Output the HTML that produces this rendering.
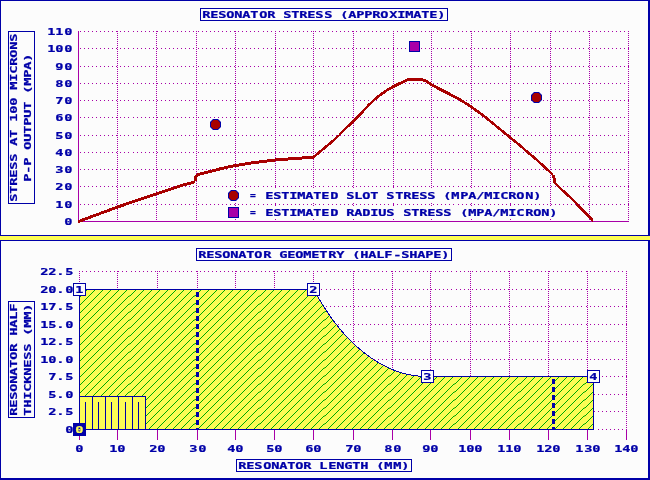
<!DOCTYPE html>
<html lang="en"><head><meta charset="utf-8"><title>Resonator Stress and Geometry</title>
<style>html,body{margin:0;padding:0;background:#fcfcfc;overflow:hidden}svg{display:block}text{font-family:"DejaVu Sans Mono","Liberation Mono",monospace;font-weight:bold;font-size:8.8px;stroke-width:0.22px;paint-order:stroke}</style>
</head><body>
<svg width="650" height="480" viewBox="0 0 650 480" shape-rendering="crispEdges">
<defs><pattern id="hatch" patternUnits="userSpaceOnUse" x="0" y="0" width="65" height="8"><rect width="65" height="8" fill="#fcfc54"/><path d="M7 0.5h1M15 0.5h1M23 0.5h1M31 0.5h1M39 0.5h1M47 0.5h1M55 0.5h1M63 0.5h1M6 1.5h1M14 1.5h1M22 1.5h1M30 1.5h1M38 1.5h1M46 1.5h1M54 1.5h1M62 1.5h1M5 2.5h1M13 2.5h1M21 2.5h1M29 2.5h1M37 2.5h1M45 2.5h1M53 2.5h1M61 2.5h1M4 3.5h1M12 3.5h1M20 3.5h1M28 3.5h1M36 3.5h1M44 3.5h1M52 3.5h1M60 3.5h1M3 4.5h1M11 4.5h1M19 4.5h1M27 4.5h1M35 4.5h1M43 4.5h1M51 4.5h1M59 4.5h1M2 5.5h1M10 5.5h1M18 5.5h1M26 5.5h1M34 5.5h1M42 5.5h1M50 5.5h1M58 5.5h1M1 6.5h1M9 6.5h1M17 6.5h1M25 6.5h1M33 6.5h1M41 6.5h1M49 6.5h1M57 6.5h1M0 7.5h1M8 7.5h1M16 7.5h1M24 7.5h1M32 7.5h1M40 7.5h1M48 7.5h1M56 7.5h1" stroke="#00a800"/><path d="M64 0.5h1M64 7.5h1" stroke="#00a800" opacity="0.5"/></pattern></defs>
<rect x="0" y="0" width="650" height="480" fill="#fcfcfc"/>
<rect x="0" y="236" width="650" height="4" fill="#fcfc54"/>
<g fill="#0000a8">
<rect x="0" y="0" width="650" height="1"/><rect x="0" y="0" width="1" height="236"/><rect x="648" y="0" width="2" height="236"/><rect x="0" y="235" width="650" height="1"/>
<rect x="0" y="240" width="650" height="1"/><rect x="0" y="240" width="1" height="240"/><rect x="648" y="240" width="2" height="240"/><rect x="0" y="478" width="650" height="2"/>
</g>
<path d="M80 204.5h1m3 0h1m3 0h1m3 0h1m3 0h1m3 0h1m3 0h1m3 0h1m3 0h1m3 0h1m3 0h1m3 0h1m3 0h1m4 0h1m3 0h1m3 0h1m3 0h1m3 0h1m3 0h1m3 0h1m3 0h1m3 0h1m3 0h1m3 0h1m3 0h1m3 0h1m3 0h1m3 0h1m3 0h1m4 0h1m3 0h1m3 0h1m3 0h1m3 0h1m3 0h1m3 0h1m3 0h1m3 0h1m3 0h1m3 0h1m3 0h1m3 0h1m3 0h1m3 0h1m3 0h1m4 0h1m3 0h1m3 0h1m3 0h1m3 0h1m3 0h1m3 0h1m3 0h1m3 0h1m3 0h1m3 0h1m3 0h1m3 0h1m3 0h1m3 0h1m3 0h1m4 0h1m3 0h1m3 0h1m3 0h1m3 0h1m3 0h1m3 0h1m3 0h1m3 0h1m3 0h1m3 0h1m3 0h1m3 0h1m3 0h1m3 0h1m3 0h1m4 0h1m3 0h1m3 0h1m3 0h1m3 0h1m3 0h1m3 0h1m3 0h1m3 0h1m3 0h1m3 0h1m3 0h1m3 0h1m3 0h1m3 0h1m3 0h1m4 0h1m3 0h1m3 0h1m3 0h1m3 0h1m3 0h1m3 0h1m3 0h1m3 0h1m3 0h1m3 0h1m3 0h1m3 0h1m3 0h1m3 0h1m3 0h1m4 0h1m3 0h1m3 0h1m3 0h1m3 0h1m3 0h1m3 0h1m3 0h1m3 0h1m3 0h1m3 0h1m3 0h1m3 0h1m3 0h1m3 0h1m3 0h1m4 0h1m3 0h1m3 0h1m3 0h1m3 0h1m3 0h1m3 0h1m3 0h1m3 0h1m3 0h1m3 0h1m-549 -18h1m3 0h1m3 0h1m3 0h1m3 0h1m3 0h1m3 0h1m3 0h1m3 0h1m3 0h1m3 0h1m3 0h1m3 0h1m4 0h1m3 0h1m3 0h1m3 0h1m3 0h1m3 0h1m3 0h1m3 0h1m3 0h1m3 0h1m3 0h1m3 0h1m3 0h1m3 0h1m3 0h1m3 0h1m4 0h1m3 0h1m3 0h1m3 0h1m3 0h1m3 0h1m3 0h1m3 0h1m3 0h1m3 0h1m3 0h1m3 0h1m3 0h1m3 0h1m3 0h1m3 0h1m4 0h1m3 0h1m3 0h1m3 0h1m3 0h1m3 0h1m3 0h1m3 0h1m3 0h1m3 0h1m3 0h1m3 0h1m3 0h1m3 0h1m3 0h1m3 0h1m4 0h1m3 0h1m3 0h1m3 0h1m3 0h1m3 0h1m3 0h1m3 0h1m3 0h1m3 0h1m3 0h1m3 0h1m3 0h1m3 0h1m3 0h1m3 0h1m4 0h1m3 0h1m3 0h1m3 0h1m3 0h1m3 0h1m3 0h1m3 0h1m3 0h1m3 0h1m3 0h1m3 0h1m3 0h1m3 0h1m3 0h1m3 0h1m4 0h1m3 0h1m3 0h1m3 0h1m3 0h1m3 0h1m3 0h1m3 0h1m3 0h1m3 0h1m3 0h1m3 0h1m3 0h1m3 0h1m3 0h1m3 0h1m4 0h1m3 0h1m3 0h1m3 0h1m3 0h1m3 0h1m3 0h1m3 0h1m3 0h1m3 0h1m3 0h1m3 0h1m3 0h1m3 0h1m3 0h1m3 0h1m4 0h1m3 0h1m3 0h1m3 0h1m3 0h1m3 0h1m3 0h1m3 0h1m3 0h1m3 0h1m3 0h1m-549 -17h1m3 0h1m3 0h1m3 0h1m3 0h1m3 0h1m3 0h1m3 0h1m3 0h1m3 0h1m3 0h1m3 0h1m3 0h1m4 0h1m3 0h1m3 0h1m3 0h1m3 0h1m3 0h1m3 0h1m3 0h1m3 0h1m3 0h1m3 0h1m3 0h1m3 0h1m3 0h1m3 0h1m3 0h1m4 0h1m3 0h1m3 0h1m3 0h1m3 0h1m3 0h1m3 0h1m3 0h1m3 0h1m3 0h1m3 0h1m3 0h1m3 0h1m3 0h1m3 0h1m3 0h1m4 0h1m3 0h1m3 0h1m3 0h1m3 0h1m3 0h1m3 0h1m3 0h1m3 0h1m3 0h1m3 0h1m3 0h1m3 0h1m3 0h1m3 0h1m3 0h1m4 0h1m3 0h1m3 0h1m3 0h1m3 0h1m3 0h1m3 0h1m3 0h1m3 0h1m3 0h1m3 0h1m3 0h1m3 0h1m3 0h1m3 0h1m3 0h1m4 0h1m3 0h1m3 0h1m3 0h1m3 0h1m3 0h1m3 0h1m3 0h1m3 0h1m3 0h1m3 0h1m3 0h1m3 0h1m3 0h1m3 0h1m3 0h1m4 0h1m3 0h1m3 0h1m3 0h1m3 0h1m3 0h1m3 0h1m3 0h1m3 0h1m3 0h1m3 0h1m3 0h1m3 0h1m3 0h1m3 0h1m3 0h1m4 0h1m3 0h1m3 0h1m3 0h1m3 0h1m3 0h1m3 0h1m3 0h1m3 0h1m3 0h1m3 0h1m3 0h1m3 0h1m3 0h1m3 0h1m3 0h1m4 0h1m3 0h1m3 0h1m3 0h1m3 0h1m3 0h1m3 0h1m3 0h1m3 0h1m3 0h1m3 0h1m-549 -17h1m3 0h1m3 0h1m3 0h1m3 0h1m3 0h1m3 0h1m3 0h1m3 0h1m3 0h1m3 0h1m3 0h1m3 0h1m4 0h1m3 0h1m3 0h1m3 0h1m3 0h1m3 0h1m3 0h1m3 0h1m3 0h1m3 0h1m3 0h1m3 0h1m3 0h1m3 0h1m3 0h1m3 0h1m4 0h1m3 0h1m3 0h1m3 0h1m3 0h1m3 0h1m3 0h1m3 0h1m3 0h1m3 0h1m3 0h1m3 0h1m3 0h1m3 0h1m3 0h1m3 0h1m4 0h1m3 0h1m3 0h1m3 0h1m3 0h1m3 0h1m3 0h1m3 0h1m3 0h1m3 0h1m3 0h1m3 0h1m3 0h1m3 0h1m3 0h1m3 0h1m4 0h1m3 0h1m3 0h1m3 0h1m3 0h1m3 0h1m3 0h1m3 0h1m3 0h1m3 0h1m3 0h1m3 0h1m3 0h1m3 0h1m3 0h1m3 0h1m4 0h1m3 0h1m3 0h1m3 0h1m3 0h1m3 0h1m3 0h1m3 0h1m3 0h1m3 0h1m3 0h1m3 0h1m3 0h1m3 0h1m3 0h1m3 0h1m4 0h1m3 0h1m3 0h1m3 0h1m3 0h1m3 0h1m3 0h1m3 0h1m3 0h1m3 0h1m3 0h1m3 0h1m3 0h1m3 0h1m3 0h1m3 0h1m4 0h1m3 0h1m3 0h1m3 0h1m3 0h1m3 0h1m3 0h1m3 0h1m3 0h1m3 0h1m3 0h1m3 0h1m3 0h1m3 0h1m3 0h1m3 0h1m4 0h1m3 0h1m3 0h1m3 0h1m3 0h1m3 0h1m3 0h1m3 0h1m3 0h1m3 0h1m3 0h1m-549 -17h1m3 0h1m3 0h1m3 0h1m3 0h1m3 0h1m3 0h1m3 0h1m3 0h1m3 0h1m3 0h1m3 0h1m3 0h1m4 0h1m3 0h1m3 0h1m3 0h1m3 0h1m3 0h1m3 0h1m3 0h1m3 0h1m3 0h1m3 0h1m3 0h1m3 0h1m3 0h1m3 0h1m3 0h1m4 0h1m3 0h1m3 0h1m3 0h1m3 0h1m3 0h1m3 0h1m3 0h1m3 0h1m3 0h1m3 0h1m3 0h1m3 0h1m3 0h1m3 0h1m3 0h1m4 0h1m3 0h1m3 0h1m3 0h1m3 0h1m3 0h1m3 0h1m3 0h1m3 0h1m3 0h1m3 0h1m3 0h1m3 0h1m3 0h1m3 0h1m3 0h1m4 0h1m3 0h1m3 0h1m3 0h1m3 0h1m3 0h1m3 0h1m3 0h1m3 0h1m3 0h1m3 0h1m3 0h1m3 0h1m3 0h1m3 0h1m3 0h1m4 0h1m3 0h1m3 0h1m3 0h1m3 0h1m3 0h1m3 0h1m3 0h1m3 0h1m3 0h1m3 0h1m3 0h1m3 0h1m3 0h1m3 0h1m3 0h1m4 0h1m3 0h1m3 0h1m3 0h1m3 0h1m3 0h1m3 0h1m3 0h1m3 0h1m3 0h1m3 0h1m3 0h1m3 0h1m3 0h1m3 0h1m3 0h1m4 0h1m3 0h1m3 0h1m3 0h1m3 0h1m3 0h1m3 0h1m3 0h1m3 0h1m3 0h1m3 0h1m3 0h1m3 0h1m3 0h1m3 0h1m3 0h1m4 0h1m3 0h1m3 0h1m3 0h1m3 0h1m3 0h1m3 0h1m3 0h1m3 0h1m3 0h1m3 0h1m-549 -18h1m3 0h1m3 0h1m3 0h1m3 0h1m3 0h1m3 0h1m3 0h1m3 0h1m3 0h1m3 0h1m3 0h1m3 0h1m4 0h1m3 0h1m3 0h1m3 0h1m3 0h1m3 0h1m3 0h1m3 0h1m3 0h1m3 0h1m3 0h1m3 0h1m3 0h1m3 0h1m3 0h1m3 0h1m4 0h1m3 0h1m3 0h1m3 0h1m3 0h1m3 0h1m3 0h1m3 0h1m3 0h1m3 0h1m3 0h1m3 0h1m3 0h1m3 0h1m3 0h1m3 0h1m4 0h1m3 0h1m3 0h1m3 0h1m3 0h1m3 0h1m3 0h1m3 0h1m3 0h1m3 0h1m3 0h1m3 0h1m3 0h1m3 0h1m3 0h1m3 0h1m4 0h1m3 0h1m3 0h1m3 0h1m3 0h1m3 0h1m3 0h1m3 0h1m3 0h1m3 0h1m3 0h1m3 0h1m3 0h1m3 0h1m3 0h1m3 0h1m4 0h1m3 0h1m3 0h1m3 0h1m3 0h1m3 0h1m3 0h1m3 0h1m3 0h1m3 0h1m3 0h1m3 0h1m3 0h1m3 0h1m3 0h1m3 0h1m4 0h1m3 0h1m3 0h1m3 0h1m3 0h1m3 0h1m3 0h1m3 0h1m3 0h1m3 0h1m3 0h1m3 0h1m3 0h1m3 0h1m3 0h1m3 0h1m4 0h1m3 0h1m3 0h1m3 0h1m3 0h1m3 0h1m3 0h1m3 0h1m3 0h1m3 0h1m3 0h1m3 0h1m3 0h1m3 0h1m3 0h1m3 0h1m4 0h1m3 0h1m3 0h1m3 0h1m3 0h1m3 0h1m3 0h1m3 0h1m3 0h1m3 0h1m3 0h1m-549 -17h1m3 0h1m3 0h1m3 0h1m3 0h1m3 0h1m3 0h1m3 0h1m3 0h1m3 0h1m3 0h1m3 0h1m3 0h1m4 0h1m3 0h1m3 0h1m3 0h1m3 0h1m3 0h1m3 0h1m3 0h1m3 0h1m3 0h1m3 0h1m3 0h1m3 0h1m3 0h1m3 0h1m3 0h1m4 0h1m3 0h1m3 0h1m3 0h1m3 0h1m3 0h1m3 0h1m3 0h1m3 0h1m3 0h1m3 0h1m3 0h1m3 0h1m3 0h1m3 0h1m3 0h1m4 0h1m3 0h1m3 0h1m3 0h1m3 0h1m3 0h1m3 0h1m3 0h1m3 0h1m3 0h1m3 0h1m3 0h1m3 0h1m3 0h1m3 0h1m3 0h1m4 0h1m3 0h1m3 0h1m3 0h1m3 0h1m3 0h1m3 0h1m3 0h1m3 0h1m3 0h1m3 0h1m3 0h1m3 0h1m3 0h1m3 0h1m3 0h1m4 0h1m3 0h1m3 0h1m3 0h1m3 0h1m3 0h1m3 0h1m3 0h1m3 0h1m3 0h1m3 0h1m3 0h1m3 0h1m3 0h1m3 0h1m3 0h1m4 0h1m3 0h1m3 0h1m3 0h1m3 0h1m3 0h1m3 0h1m3 0h1m3 0h1m3 0h1m3 0h1m3 0h1m3 0h1m3 0h1m3 0h1m3 0h1m4 0h1m3 0h1m3 0h1m3 0h1m3 0h1m3 0h1m3 0h1m3 0h1m3 0h1m3 0h1m3 0h1m3 0h1m3 0h1m3 0h1m3 0h1m3 0h1m4 0h1m3 0h1m3 0h1m3 0h1m3 0h1m3 0h1m3 0h1m3 0h1m3 0h1m3 0h1m3 0h1m-549 -17h1m3 0h1m3 0h1m3 0h1m3 0h1m3 0h1m3 0h1m3 0h1m3 0h1m3 0h1m3 0h1m3 0h1m3 0h1m4 0h1m3 0h1m3 0h1m3 0h1m3 0h1m3 0h1m3 0h1m3 0h1m3 0h1m3 0h1m3 0h1m3 0h1m3 0h1m3 0h1m3 0h1m3 0h1m4 0h1m3 0h1m3 0h1m3 0h1m3 0h1m3 0h1m3 0h1m3 0h1m3 0h1m3 0h1m3 0h1m3 0h1m3 0h1m3 0h1m3 0h1m3 0h1m4 0h1m3 0h1m3 0h1m3 0h1m3 0h1m3 0h1m3 0h1m3 0h1m3 0h1m3 0h1m3 0h1m3 0h1m3 0h1m3 0h1m3 0h1m3 0h1m4 0h1m3 0h1m3 0h1m3 0h1m3 0h1m3 0h1m3 0h1m3 0h1m3 0h1m3 0h1m3 0h1m3 0h1m3 0h1m3 0h1m3 0h1m3 0h1m4 0h1m3 0h1m3 0h1m3 0h1m3 0h1m3 0h1m3 0h1m3 0h1m3 0h1m3 0h1m3 0h1m3 0h1m3 0h1m3 0h1m3 0h1m3 0h1m4 0h1m3 0h1m3 0h1m3 0h1m3 0h1m3 0h1m3 0h1m3 0h1m3 0h1m3 0h1m3 0h1m3 0h1m3 0h1m3 0h1m3 0h1m3 0h1m4 0h1m3 0h1m3 0h1m3 0h1m3 0h1m3 0h1m3 0h1m3 0h1m3 0h1m3 0h1m3 0h1m3 0h1m3 0h1m3 0h1m3 0h1m3 0h1m4 0h1m3 0h1m3 0h1m3 0h1m3 0h1m3 0h1m3 0h1m3 0h1m3 0h1m3 0h1m3 0h1m-549 -17h1m3 0h1m3 0h1m3 0h1m3 0h1m3 0h1m3 0h1m3 0h1m3 0h1m3 0h1m3 0h1m3 0h1m3 0h1m4 0h1m3 0h1m3 0h1m3 0h1m3 0h1m3 0h1m3 0h1m3 0h1m3 0h1m3 0h1m3 0h1m3 0h1m3 0h1m3 0h1m3 0h1m3 0h1m4 0h1m3 0h1m3 0h1m3 0h1m3 0h1m3 0h1m3 0h1m3 0h1m3 0h1m3 0h1m3 0h1m3 0h1m3 0h1m3 0h1m3 0h1m3 0h1m4 0h1m3 0h1m3 0h1m3 0h1m3 0h1m3 0h1m3 0h1m3 0h1m3 0h1m3 0h1m3 0h1m3 0h1m3 0h1m3 0h1m3 0h1m3 0h1m4 0h1m3 0h1m3 0h1m3 0h1m3 0h1m3 0h1m3 0h1m3 0h1m3 0h1m3 0h1m3 0h1m3 0h1m3 0h1m3 0h1m3 0h1m3 0h1m4 0h1m3 0h1m3 0h1m3 0h1m3 0h1m3 0h1m3 0h1m3 0h1m3 0h1m3 0h1m3 0h1m3 0h1m3 0h1m3 0h1m3 0h1m3 0h1m4 0h1m3 0h1m3 0h1m3 0h1m3 0h1m3 0h1m3 0h1m3 0h1m3 0h1m3 0h1m3 0h1m3 0h1m3 0h1m3 0h1m3 0h1m3 0h1m4 0h1m3 0h1m3 0h1m3 0h1m3 0h1m3 0h1m3 0h1m3 0h1m3 0h1m3 0h1m3 0h1m3 0h1m3 0h1m3 0h1m3 0h1m3 0h1m4 0h1m3 0h1m3 0h1m3 0h1m3 0h1m3 0h1m3 0h1m3 0h1m3 0h1m3 0h1m3 0h1m-549 -18h1m3 0h1m3 0h1m3 0h1m3 0h1m3 0h1m3 0h1m3 0h1m3 0h1m3 0h1m3 0h1m3 0h1m3 0h1m4 0h1m3 0h1m3 0h1m3 0h1m3 0h1m3 0h1m3 0h1m3 0h1m3 0h1m3 0h1m3 0h1m3 0h1m3 0h1m3 0h1m3 0h1m3 0h1m4 0h1m3 0h1m3 0h1m3 0h1m3 0h1m3 0h1m3 0h1m3 0h1m3 0h1m3 0h1m3 0h1m3 0h1m3 0h1m3 0h1m3 0h1m3 0h1m4 0h1m3 0h1m3 0h1m3 0h1m3 0h1m3 0h1m3 0h1m3 0h1m3 0h1m3 0h1m3 0h1m3 0h1m3 0h1m3 0h1m3 0h1m3 0h1m4 0h1m3 0h1m3 0h1m3 0h1m3 0h1m3 0h1m3 0h1m3 0h1m3 0h1m3 0h1m3 0h1m3 0h1m3 0h1m3 0h1m3 0h1m3 0h1m4 0h1m3 0h1m3 0h1m3 0h1m3 0h1m3 0h1m3 0h1m3 0h1m3 0h1m3 0h1m3 0h1m3 0h1m3 0h1m3 0h1m3 0h1m3 0h1m4 0h1m3 0h1m3 0h1m3 0h1m3 0h1m3 0h1m3 0h1m3 0h1m3 0h1m3 0h1m3 0h1m3 0h1m3 0h1m3 0h1m3 0h1m3 0h1m4 0h1m3 0h1m3 0h1m3 0h1m3 0h1m3 0h1m3 0h1m3 0h1m3 0h1m3 0h1m3 0h1m3 0h1m3 0h1m3 0h1m3 0h1m3 0h1m4 0h1m3 0h1m3 0h1m3 0h1m3 0h1m3 0h1m3 0h1m3 0h1m3 0h1m3 0h1m3 0h1m-549 -17h1m3 0h1m3 0h1m3 0h1m3 0h1m3 0h1m3 0h1m3 0h1m3 0h1m3 0h1m3 0h1m3 0h1m3 0h1m4 0h1m3 0h1m3 0h1m3 0h1m3 0h1m3 0h1m3 0h1m3 0h1m3 0h1m3 0h1m3 0h1m3 0h1m3 0h1m3 0h1m3 0h1m3 0h1m4 0h1m3 0h1m3 0h1m3 0h1m3 0h1m3 0h1m3 0h1m3 0h1m3 0h1m3 0h1m3 0h1m3 0h1m3 0h1m3 0h1m3 0h1m3 0h1m4 0h1m3 0h1m3 0h1m3 0h1m3 0h1m3 0h1m3 0h1m3 0h1m3 0h1m3 0h1m3 0h1m3 0h1m3 0h1m3 0h1m3 0h1m3 0h1m4 0h1m3 0h1m3 0h1m3 0h1m3 0h1m3 0h1m3 0h1m3 0h1m3 0h1m3 0h1m3 0h1m3 0h1m3 0h1m3 0h1m3 0h1m3 0h1m4 0h1m3 0h1m3 0h1m3 0h1m3 0h1m3 0h1m3 0h1m3 0h1m3 0h1m3 0h1m3 0h1m3 0h1m3 0h1m3 0h1m3 0h1m3 0h1m4 0h1m3 0h1m3 0h1m3 0h1m3 0h1m3 0h1m3 0h1m3 0h1m3 0h1m3 0h1m3 0h1m3 0h1m3 0h1m3 0h1m3 0h1m3 0h1m4 0h1m3 0h1m3 0h1m3 0h1m3 0h1m3 0h1m3 0h1m3 0h1m3 0h1m3 0h1m3 0h1m3 0h1m3 0h1m3 0h1m3 0h1m3 0h1m4 0h1m3 0h1m3 0h1m3 0h1m3 0h1m3 0h1m3 0h1m3 0h1m3 0h1m3 0h1m3 0h1" stroke="#a800a8" fill="none"/>
<path d="M117 31.5h1m-1 2h1m-1 2h1m-1 2h1m-1 2h1m-1 2h1m-1 2h1m-1 2h1m-1 2h1m-1 2h1m-1 2h1m-1 2h1m-1 2h1m-1 2h1m-1 2h1m-1 2h1m-1 2h1m-1 2h1m-1 2h1m-1 2h1m-1 2h1m-1 2h1m-1 2h1m-1 2h1m-1 2h1m-1 2h1m-1 2h1m-1 2h1m-1 2h1m-1 2h1m-1 2h1m-1 2h1m-1 2h1m-1 2h1m-1 2h1m-1 2h1m-1 2h1m-1 2h1m-1 2h1m-1 2h1m-1 2h1m-1 2h1m-1 2h1m-1 2h1m-1 2h1m-1 2h1m-1 2h1m-1 2h1m-1 2h1m-1 2h1m-1 2h1m-1 2h1m-1 2h1m-1 2h1m-1 2h1m-1 2h1m-1 2h1m-1 2h1m-1 2h1m-1 2h1m-1 2h1m-1 2h1m-1 2h1m-1 2h1m-1 2h1m-1 2h1m-1 2h1m-1 2h1m-1 2h1m-1 2h1m-1 2h1m-1 2h1m-1 2h1m-1 2h1m-1 2h1m-1 2h1m-1 2h1m-1 2h1m-1 2h1m-1 2h1m-1 2h1m-1 2h1m-1 2h1m-1 2h1m-1 2h1m-1 2h1m-1 2h1m-1 2h1m-1 2h1m-1 2h1m-1 2h1m-1 2h1m-1 2h1m-1 2h1m-1 2h1m38 -188h1m-1 2h1m-1 2h1m-1 2h1m-1 2h1m-1 2h1m-1 2h1m-1 2h1m-1 2h1m-1 2h1m-1 2h1m-1 2h1m-1 2h1m-1 2h1m-1 2h1m-1 2h1m-1 2h1m-1 2h1m-1 2h1m-1 2h1m-1 2h1m-1 2h1m-1 2h1m-1 2h1m-1 2h1m-1 2h1m-1 2h1m-1 2h1m-1 2h1m-1 2h1m-1 2h1m-1 2h1m-1 2h1m-1 2h1m-1 2h1m-1 2h1m-1 2h1m-1 2h1m-1 2h1m-1 2h1m-1 2h1m-1 2h1m-1 2h1m-1 2h1m-1 2h1m-1 2h1m-1 2h1m-1 2h1m-1 2h1m-1 2h1m-1 2h1m-1 2h1m-1 2h1m-1 2h1m-1 2h1m-1 2h1m-1 2h1m-1 2h1m-1 2h1m-1 2h1m-1 2h1m-1 2h1m-1 2h1m-1 2h1m-1 2h1m-1 2h1m-1 2h1m-1 2h1m-1 2h1m-1 2h1m-1 2h1m-1 2h1m-1 2h1m-1 2h1m-1 2h1m-1 2h1m-1 2h1m-1 2h1m-1 2h1m-1 2h1m-1 2h1m-1 2h1m-1 2h1m-1 2h1m-1 2h1m-1 2h1m-1 2h1m-1 2h1m-1 2h1m-1 2h1m-1 2h1m-1 2h1m-1 2h1m-1 2h1m-1 2h1m39 -188h1m-1 2h1m-1 2h1m-1 2h1m-1 2h1m-1 2h1m-1 2h1m-1 2h1m-1 2h1m-1 2h1m-1 2h1m-1 2h1m-1 2h1m-1 2h1m-1 2h1m-1 2h1m-1 2h1m-1 2h1m-1 2h1m-1 2h1m-1 2h1m-1 2h1m-1 2h1m-1 2h1m-1 2h1m-1 2h1m-1 2h1m-1 2h1m-1 2h1m-1 2h1m-1 2h1m-1 2h1m-1 2h1m-1 2h1m-1 2h1m-1 2h1m-1 2h1m-1 2h1m-1 2h1m-1 2h1m-1 2h1m-1 2h1m-1 2h1m-1 2h1m-1 2h1m-1 2h1m-1 2h1m-1 2h1m-1 2h1m-1 2h1m-1 2h1m-1 2h1m-1 2h1m-1 2h1m-1 2h1m-1 2h1m-1 2h1m-1 2h1m-1 2h1m-1 2h1m-1 2h1m-1 2h1m-1 2h1m-1 2h1m-1 2h1m-1 2h1m-1 2h1m-1 2h1m-1 2h1m-1 2h1m-1 2h1m-1 2h1m-1 2h1m-1 2h1m-1 2h1m-1 2h1m-1 2h1m-1 2h1m-1 2h1m-1 2h1m-1 2h1m-1 2h1m-1 2h1m-1 2h1m-1 2h1m-1 2h1m-1 2h1m-1 2h1m-1 2h1m-1 2h1m-1 2h1m-1 2h1m-1 2h1m-1 2h1m-1 2h1m38 -188h1m-1 2h1m-1 2h1m-1 2h1m-1 2h1m-1 2h1m-1 2h1m-1 2h1m-1 2h1m-1 2h1m-1 2h1m-1 2h1m-1 2h1m-1 2h1m-1 2h1m-1 2h1m-1 2h1m-1 2h1m-1 2h1m-1 2h1m-1 2h1m-1 2h1m-1 2h1m-1 2h1m-1 2h1m-1 2h1m-1 2h1m-1 2h1m-1 2h1m-1 2h1m-1 2h1m-1 2h1m-1 2h1m-1 2h1m-1 2h1m-1 2h1m-1 2h1m-1 2h1m-1 2h1m-1 2h1m-1 2h1m-1 2h1m-1 2h1m-1 2h1m-1 2h1m-1 2h1m-1 2h1m-1 2h1m-1 2h1m-1 2h1m-1 2h1m-1 2h1m-1 2h1m-1 2h1m-1 2h1m-1 2h1m-1 2h1m-1 2h1m-1 2h1m-1 2h1m-1 2h1m-1 2h1m-1 2h1m-1 2h1m-1 2h1m-1 2h1m-1 2h1m-1 2h1m-1 2h1m-1 2h1m-1 2h1m-1 2h1m-1 2h1m-1 2h1m-1 2h1m-1 2h1m-1 2h1m-1 2h1m-1 2h1m-1 2h1m-1 2h1m-1 2h1m-1 2h1m-1 2h1m-1 2h1m-1 2h1m-1 2h1m-1 2h1m-1 2h1m-1 2h1m-1 2h1m-1 2h1m-1 2h1m-1 2h1m-1 2h1m39 -188h1m-1 2h1m-1 2h1m-1 2h1m-1 2h1m-1 2h1m-1 2h1m-1 2h1m-1 2h1m-1 2h1m-1 2h1m-1 2h1m-1 2h1m-1 2h1m-1 2h1m-1 2h1m-1 2h1m-1 2h1m-1 2h1m-1 2h1m-1 2h1m-1 2h1m-1 2h1m-1 2h1m-1 2h1m-1 2h1m-1 2h1m-1 2h1m-1 2h1m-1 2h1m-1 2h1m-1 2h1m-1 2h1m-1 2h1m-1 2h1m-1 2h1m-1 2h1m-1 2h1m-1 2h1m-1 2h1m-1 2h1m-1 2h1m-1 2h1m-1 2h1m-1 2h1m-1 2h1m-1 2h1m-1 2h1m-1 2h1m-1 2h1m-1 2h1m-1 2h1m-1 2h1m-1 2h1m-1 2h1m-1 2h1m-1 2h1m-1 2h1m-1 2h1m-1 2h1m-1 2h1m-1 2h1m-1 2h1m-1 2h1m-1 2h1m-1 2h1m-1 2h1m-1 2h1m-1 2h1m-1 2h1m-1 2h1m-1 2h1m-1 2h1m-1 2h1m-1 2h1m-1 2h1m-1 2h1m-1 2h1m-1 2h1m-1 2h1m-1 2h1m-1 2h1m-1 2h1m-1 2h1m-1 2h1m-1 2h1m-1 2h1m-1 2h1m-1 2h1m-1 2h1m-1 2h1m-1 2h1m-1 2h1m-1 2h1m-1 2h1m37 -188h1m-1 2h1m-1 2h1m-1 2h1m-1 2h1m-1 2h1m-1 2h1m-1 2h1m-1 2h1m-1 2h1m-1 2h1m-1 2h1m-1 2h1m-1 2h1m-1 2h1m-1 2h1m-1 2h1m-1 2h1m-1 2h1m-1 2h1m-1 2h1m-1 2h1m-1 2h1m-1 2h1m-1 2h1m-1 2h1m-1 2h1m-1 2h1m-1 2h1m-1 2h1m-1 2h1m-1 2h1m-1 2h1m-1 2h1m-1 2h1m-1 2h1m-1 2h1m-1 2h1m-1 2h1m-1 2h1m-1 2h1m-1 2h1m-1 2h1m-1 2h1m-1 2h1m-1 2h1m-1 2h1m-1 2h1m-1 2h1m-1 2h1m-1 2h1m-1 2h1m-1 2h1m-1 2h1m-1 2h1m-1 2h1m-1 2h1m-1 2h1m-1 2h1m-1 2h1m-1 2h1m-1 2h1m-1 2h1m-1 2h1m-1 2h1m-1 2h1m-1 2h1m-1 2h1m-1 2h1m-1 2h1m-1 2h1m-1 2h1m-1 2h1m-1 2h1m-1 2h1m-1 2h1m-1 2h1m-1 2h1m-1 2h1m-1 2h1m-1 2h1m-1 2h1m-1 2h1m-1 2h1m-1 2h1m-1 2h1m-1 2h1m-1 2h1m-1 2h1m-1 2h1m-1 2h1m-1 2h1m-1 2h1m-1 2h1m-1 2h1m39 -188h1m-1 2h1m-1 2h1m-1 2h1m-1 2h1m-1 2h1m-1 2h1m-1 2h1m-1 2h1m-1 2h1m-1 2h1m-1 2h1m-1 2h1m-1 2h1m-1 2h1m-1 2h1m-1 2h1m-1 2h1m-1 2h1m-1 2h1m-1 2h1m-1 2h1m-1 2h1m-1 2h1m-1 2h1m-1 2h1m-1 2h1m-1 2h1m-1 2h1m-1 2h1m-1 2h1m-1 2h1m-1 2h1m-1 2h1m-1 2h1m-1 2h1m-1 2h1m-1 2h1m-1 2h1m-1 2h1m-1 2h1m-1 2h1m-1 2h1m-1 2h1m-1 2h1m-1 2h1m-1 2h1m-1 2h1m-1 2h1m-1 2h1m-1 2h1m-1 2h1m-1 2h1m-1 2h1m-1 2h1m-1 2h1m-1 2h1m-1 2h1m-1 2h1m-1 2h1m-1 2h1m-1 2h1m-1 2h1m-1 2h1m-1 2h1m-1 2h1m-1 2h1m-1 2h1m-1 2h1m-1 2h1m-1 2h1m-1 2h1m-1 2h1m-1 2h1m-1 2h1m-1 2h1m-1 2h1m-1 2h1m-1 2h1m-1 2h1m-1 2h1m-1 2h1m-1 2h1m-1 2h1m-1 2h1m-1 2h1m-1 2h1m-1 2h1m-1 2h1m-1 2h1m-1 2h1m-1 2h1m-1 2h1m-1 2h1m-1 2h1m39 -188h1m-1 2h1m-1 2h1m-1 2h1m-1 2h1m-1 2h1m-1 2h1m-1 2h1m-1 2h1m-1 2h1m-1 2h1m-1 2h1m-1 2h1m-1 2h1m-1 2h1m-1 2h1m-1 2h1m-1 2h1m-1 2h1m-1 2h1m-1 2h1m-1 2h1m-1 2h1m-1 2h1m-1 2h1m-1 2h1m-1 2h1m-1 2h1m-1 2h1m-1 2h1m-1 2h1m-1 2h1m-1 2h1m-1 2h1m-1 2h1m-1 2h1m-1 2h1m-1 2h1m-1 2h1m-1 2h1m-1 2h1m-1 2h1m-1 2h1m-1 2h1m-1 2h1m-1 2h1m-1 2h1m-1 2h1m-1 2h1m-1 2h1m-1 2h1m-1 2h1m-1 2h1m-1 2h1m-1 2h1m-1 2h1m-1 2h1m-1 2h1m-1 2h1m-1 2h1m-1 2h1m-1 2h1m-1 2h1m-1 2h1m-1 2h1m-1 2h1m-1 2h1m-1 2h1m-1 2h1m-1 2h1m-1 2h1m-1 2h1m-1 2h1m-1 2h1m-1 2h1m-1 2h1m-1 2h1m-1 2h1m-1 2h1m-1 2h1m-1 2h1m-1 2h1m-1 2h1m-1 2h1m-1 2h1m-1 2h1m-1 2h1m-1 2h1m-1 2h1m-1 2h1m-1 2h1m-1 2h1m-1 2h1m-1 2h1m-1 2h1m37 -188h1m-1 2h1m-1 2h1m-1 2h1m-1 2h1m-1 2h1m-1 2h1m-1 2h1m-1 2h1m-1 2h1m-1 2h1m-1 2h1m-1 2h1m-1 2h1m-1 2h1m-1 2h1m-1 2h1m-1 2h1m-1 2h1m-1 2h1m-1 2h1m-1 2h1m-1 2h1m-1 2h1m-1 2h1m-1 2h1m-1 2h1m-1 2h1m-1 2h1m-1 2h1m-1 2h1m-1 2h1m-1 2h1m-1 2h1m-1 2h1m-1 2h1m-1 2h1m-1 2h1m-1 2h1m-1 2h1m-1 2h1m-1 2h1m-1 2h1m-1 2h1m-1 2h1m-1 2h1m-1 2h1m-1 2h1m-1 2h1m-1 2h1m-1 2h1m-1 2h1m-1 2h1m-1 2h1m-1 2h1m-1 2h1m-1 2h1m-1 2h1m-1 2h1m-1 2h1m-1 2h1m-1 2h1m-1 2h1m-1 2h1m-1 2h1m-1 2h1m-1 2h1m-1 2h1m-1 2h1m-1 2h1m-1 2h1m-1 2h1m-1 2h1m-1 2h1m-1 2h1m-1 2h1m-1 2h1m-1 2h1m-1 2h1m-1 2h1m-1 2h1m-1 2h1m-1 2h1m-1 2h1m-1 2h1m-1 2h1m-1 2h1m-1 2h1m-1 2h1m-1 2h1m-1 2h1m-1 2h1m-1 2h1m-1 2h1m-1 2h1m39 -188h1m-1 2h1m-1 2h1m-1 2h1m-1 2h1m-1 2h1m-1 2h1m-1 2h1m-1 2h1m-1 2h1m-1 2h1m-1 2h1m-1 2h1m-1 2h1m-1 2h1m-1 2h1m-1 2h1m-1 2h1m-1 2h1m-1 2h1m-1 2h1m-1 2h1m-1 2h1m-1 2h1m-1 2h1m-1 2h1m-1 2h1m-1 2h1m-1 2h1m-1 2h1m-1 2h1m-1 2h1m-1 2h1m-1 2h1m-1 2h1m-1 2h1m-1 2h1m-1 2h1m-1 2h1m-1 2h1m-1 2h1m-1 2h1m-1 2h1m-1 2h1m-1 2h1m-1 2h1m-1 2h1m-1 2h1m-1 2h1m-1 2h1m-1 2h1m-1 2h1m-1 2h1m-1 2h1m-1 2h1m-1 2h1m-1 2h1m-1 2h1m-1 2h1m-1 2h1m-1 2h1m-1 2h1m-1 2h1m-1 2h1m-1 2h1m-1 2h1m-1 2h1m-1 2h1m-1 2h1m-1 2h1m-1 2h1m-1 2h1m-1 2h1m-1 2h1m-1 2h1m-1 2h1m-1 2h1m-1 2h1m-1 2h1m-1 2h1m-1 2h1m-1 2h1m-1 2h1m-1 2h1m-1 2h1m-1 2h1m-1 2h1m-1 2h1m-1 2h1m-1 2h1m-1 2h1m-1 2h1m-1 2h1m-1 2h1m-1 2h1m38 -188h1m-1 2h1m-1 2h1m-1 2h1m-1 2h1m-1 2h1m-1 2h1m-1 2h1m-1 2h1m-1 2h1m-1 2h1m-1 2h1m-1 2h1m-1 2h1m-1 2h1m-1 2h1m-1 2h1m-1 2h1m-1 2h1m-1 2h1m-1 2h1m-1 2h1m-1 2h1m-1 2h1m-1 2h1m-1 2h1m-1 2h1m-1 2h1m-1 2h1m-1 2h1m-1 2h1m-1 2h1m-1 2h1m-1 2h1m-1 2h1m-1 2h1m-1 2h1m-1 2h1m-1 2h1m-1 2h1m-1 2h1m-1 2h1m-1 2h1m-1 2h1m-1 2h1m-1 2h1m-1 2h1m-1 2h1m-1 2h1m-1 2h1m-1 2h1m-1 2h1m-1 2h1m-1 2h1m-1 2h1m-1 2h1m-1 2h1m-1 2h1m-1 2h1m-1 2h1m-1 2h1m-1 2h1m-1 2h1m-1 2h1m-1 2h1m-1 2h1m-1 2h1m-1 2h1m-1 2h1m-1 2h1m-1 2h1m-1 2h1m-1 2h1m-1 2h1m-1 2h1m-1 2h1m-1 2h1m-1 2h1m-1 2h1m-1 2h1m-1 2h1m-1 2h1m-1 2h1m-1 2h1m-1 2h1m-1 2h1m-1 2h1m-1 2h1m-1 2h1m-1 2h1m-1 2h1m-1 2h1m-1 2h1m-1 2h1m-1 2h1m39 -188h1m-1 2h1m-1 2h1m-1 2h1m-1 2h1m-1 2h1m-1 2h1m-1 2h1m-1 2h1m-1 2h1m-1 2h1m-1 2h1m-1 2h1m-1 2h1m-1 2h1m-1 2h1m-1 2h1m-1 2h1m-1 2h1m-1 2h1m-1 2h1m-1 2h1m-1 2h1m-1 2h1m-1 2h1m-1 2h1m-1 2h1m-1 2h1m-1 2h1m-1 2h1m-1 2h1m-1 2h1m-1 2h1m-1 2h1m-1 2h1m-1 2h1m-1 2h1m-1 2h1m-1 2h1m-1 2h1m-1 2h1m-1 2h1m-1 2h1m-1 2h1m-1 2h1m-1 2h1m-1 2h1m-1 2h1m-1 2h1m-1 2h1m-1 2h1m-1 2h1m-1 2h1m-1 2h1m-1 2h1m-1 2h1m-1 2h1m-1 2h1m-1 2h1m-1 2h1m-1 2h1m-1 2h1m-1 2h1m-1 2h1m-1 2h1m-1 2h1m-1 2h1m-1 2h1m-1 2h1m-1 2h1m-1 2h1m-1 2h1m-1 2h1m-1 2h1m-1 2h1m-1 2h1m-1 2h1m-1 2h1m-1 2h1m-1 2h1m-1 2h1m-1 2h1m-1 2h1m-1 2h1m-1 2h1m-1 2h1m-1 2h1m-1 2h1m-1 2h1m-1 2h1m-1 2h1m-1 2h1m-1 2h1m-1 2h1m-1 2h1m38 -188h1m-1 2h1m-1 2h1m-1 2h1m-1 2h1m-1 2h1m-1 2h1m-1 2h1m-1 2h1m-1 2h1m-1 2h1m-1 2h1m-1 2h1m-1 2h1m-1 2h1m-1 2h1m-1 2h1m-1 2h1m-1 2h1m-1 2h1m-1 2h1m-1 2h1m-1 2h1m-1 2h1m-1 2h1m-1 2h1m-1 2h1m-1 2h1m-1 2h1m-1 2h1m-1 2h1m-1 2h1m-1 2h1m-1 2h1m-1 2h1m-1 2h1m-1 2h1m-1 2h1m-1 2h1m-1 2h1m-1 2h1m-1 2h1m-1 2h1m-1 2h1m-1 2h1m-1 2h1m-1 2h1m-1 2h1m-1 2h1m-1 2h1m-1 2h1m-1 2h1m-1 2h1m-1 2h1m-1 2h1m-1 2h1m-1 2h1m-1 2h1m-1 2h1m-1 2h1m-1 2h1m-1 2h1m-1 2h1m-1 2h1m-1 2h1m-1 2h1m-1 2h1m-1 2h1m-1 2h1m-1 2h1m-1 2h1m-1 2h1m-1 2h1m-1 2h1m-1 2h1m-1 2h1m-1 2h1m-1 2h1m-1 2h1m-1 2h1m-1 2h1m-1 2h1m-1 2h1m-1 2h1m-1 2h1m-1 2h1m-1 2h1m-1 2h1m-1 2h1m-1 2h1m-1 2h1m-1 2h1m-1 2h1m-1 2h1m-1 2h1m38 -188h1m-1 2h1m-1 2h1m-1 2h1m-1 2h1m-1 2h1m-1 2h1m-1 2h1m-1 2h1m-1 2h1m-1 2h1m-1 2h1m-1 2h1m-1 2h1m-1 2h1m-1 2h1m-1 2h1m-1 2h1m-1 2h1m-1 2h1m-1 2h1m-1 2h1m-1 2h1m-1 2h1m-1 2h1m-1 2h1m-1 2h1m-1 2h1m-1 2h1m-1 2h1m-1 2h1m-1 2h1m-1 2h1m-1 2h1m-1 2h1m-1 2h1m-1 2h1m-1 2h1m-1 2h1m-1 2h1m-1 2h1m-1 2h1m-1 2h1m-1 2h1m-1 2h1m-1 2h1m-1 2h1m-1 2h1m-1 2h1m-1 2h1m-1 2h1m-1 2h1m-1 2h1m-1 2h1m-1 2h1m-1 2h1m-1 2h1m-1 2h1m-1 2h1m-1 2h1m-1 2h1m-1 2h1m-1 2h1m-1 2h1m-1 2h1m-1 2h1m-1 2h1m-1 2h1m-1 2h1m-1 2h1m-1 2h1m-1 2h1m-1 2h1m-1 2h1m-1 2h1m-1 2h1m-1 2h1m-1 2h1m-1 2h1m-1 2h1m-1 2h1m-1 2h1m-1 2h1m-1 2h1m-1 2h1m-1 2h1m-1 2h1m-1 2h1m-1 2h1m-1 2h1m-1 2h1m-1 2h1m-1 2h1m-1 2h1m-1 2h1" stroke="#a800a8" fill="none"/>
<rect x="78" y="31" width="1" height="191" fill="#a800a8"/><rect x="78" y="221" width="551" height="1" fill="#a800a8"/>
<text transform="translate(64.3 225) scale(1.55 1)" x="0" fill="#0000a8" stroke="#0000a8">0</text>
<text transform="translate(55.3 208) scale(1.55 1)" x="0 5.806" fill="#0000a8" stroke="#0000a8">10</text>
<text transform="translate(55.3 190) scale(1.55 1)" x="0 5.806" fill="#0000a8" stroke="#0000a8">20</text>
<text transform="translate(55.3 173) scale(1.55 1)" x="0 5.806" fill="#0000a8" stroke="#0000a8">30</text>
<text transform="translate(55.3 156) scale(1.55 1)" x="0 5.806" fill="#0000a8" stroke="#0000a8">40</text>
<text transform="translate(55.3 139) scale(1.55 1)" x="0 5.806" fill="#0000a8" stroke="#0000a8">50</text>
<text transform="translate(55.3 121) scale(1.55 1)" x="0 5.806" fill="#0000a8" stroke="#0000a8">60</text>
<text transform="translate(55.3 104) scale(1.55 1)" x="0 5.806" fill="#0000a8" stroke="#0000a8">70</text>
<text transform="translate(55.3 87) scale(1.55 1)" x="0 5.806" fill="#0000a8" stroke="#0000a8">80</text>
<text transform="translate(55.3 70) scale(1.55 1)" x="0 5.806" fill="#0000a8" stroke="#0000a8">90</text>
<text transform="translate(47.3 52) scale(1.55 1)" x="0 5.161 10.97" fill="#0000a8" stroke="#0000a8">100</text>
<text transform="translate(47.3 35) scale(1.55 1)" x="0 5.161 10.97" fill="#0000a8" stroke="#0000a8">110</text>
<rect x="200.5" y="8.5" width="247" height="12" fill="none" stroke="#0000a8"/>
<text transform="translate(202.3 18) scale(1.55 1)" x="0 5.161 10.32 15.48 20.65 25.81 30.97 36.77 41.94 47.1 52.26 57.42 62.58 67.74 72.9 78.71 83.87 89.03 94.19 99.35 104.5 109.7 114.8 120.6 125.8 131 136.1 141.3 146.5 151.6" fill="#0000a8" stroke="#0000a8">RESONATOR STRESS (APPROXIMATE)</text>
<rect x="8.5" y="31.5" width="26" height="172" fill="none" stroke="#0000a8"/>
<text transform="translate(17 201.7) rotate(-90) scale(1.55 1)" x="0 5.161 10.32 15.48 20.65 25.81 30.97 36.13 41.29 46.45 51.61 56.77 61.94 67.1 72.26 77.42 82.58 87.74 92.9 98.06 103.2" fill="#0000a8" stroke="#0000a8">STRESS AT 100 MICRONS</text>
<text transform="translate(31 181.7) rotate(-90) scale(1.55 1)" x="0 5.161 10.32 15.48 20.65 25.81 30.97 36.13 41.29 46.45 51.61 56.77 61.94 67.1 72.26 77.42" fill="#0000a8" stroke="#0000a8">P-P OUTPUT (MPA)</text>
<rect x="226" y="188" width="317" height="15" fill="#fcfcfc"/><rect x="226" y="206" width="333" height="13" fill="#fcfcfc"/>
<path d="M78.5 220.5L117 206.2M78.5 221.5L117 207.2M78.5 222.5L117 208.2M117 206.2L156.3 192.9M117 207.2L156.3 193.9M117 208.2L156.3 194.9M156.3 192.9L170 188.4M156.3 193.9L170 189.4M156.3 194.9L170 190.4M170 188.4L182.5 184.2M170 189.4L182.5 185.2M170 190.4L182.5 186.2M182.5 184.2L193.3 181.4M182.5 185.2L193.3 182.4M182.5 186.2L193.3 183.4M193.3 181.4L195 180M193.3 182.4L195 181M193.3 183.4L195 182M194 181L194.6 176.4M195 181L195.6 176.4M196 181L196.6 176.4M195.6 175.4L198.1 173.5M195.6 176.4L198.1 174.5M195.6 177.4L198.1 175.5M198.1 173.5L207.5 171.2M198.1 174.5L207.5 172.2M198.1 175.5L207.5 173.2M207.5 171.2L220 167.9M207.5 172.2L220 168.9M207.5 173.2L220 169.9M220 167.9L232.5 165.1M220 168.9L232.5 166.1M220 169.9L232.5 167.1M232.5 165.1L250 162.1M232.5 166.1L250 163.1M232.5 167.1L250 164.1M250 162.1L275.6 158.9M250 163.1L275.6 159.9M250 164.1L275.6 160.9M275.6 158.9L298.75 157.2M275.6 159.9L298.75 158.2M275.6 160.9L298.75 159.2M298.75 157.2L313.3 156.3M298.75 158.2L313.3 157.3M298.75 159.2L313.3 158.3M313.3 156.3L321.25 149.6M313.3 157.3L321.25 150.6M313.3 158.3L321.25 151.6M321.25 149.6L332.5 140.3M321.25 150.6L332.5 141.3M321.25 151.6L332.5 142.3M331.5 141.3L337.75 135M332.5 141.3L338.75 135M333.5 141.3L339.75 135M338.75 134L350 123.4M338.75 135L350 124.4M338.75 136L350 125.4M350 123.4L360 113.6M350 124.4L360 114.6M350 125.4L360 115.6M359 114.6L367.8 104.9M360 114.6L368.8 104.9M361 114.6L369.8 104.9M368.8 103.9L378.1 95.5M368.8 104.9L378.1 96.5M368.8 105.9L378.1 97.5M378.1 95.5L387.5 88.8M378.1 96.5L387.5 89.8M378.1 97.5L387.5 90.8M387.5 88.8L393.75 85.4M387.5 89.8L393.75 86.4M387.5 90.8L393.75 87.4M393.75 85.4L398.75 82.9M393.75 86.4L398.75 83.9M393.75 87.4L398.75 84.9M398.75 82.9L404.6 80.2M398.75 83.9L404.6 81.2M398.75 84.9L404.6 82.2M404.6 80.2L408.6 78.5M404.6 81.2L408.6 79.5M404.6 82.2L408.6 80.5M408.6 78.5L420.6 78.5M408.6 79.5L420.6 79.5M408.6 80.5L420.6 80.5M420.6 78.5L425 79.6M420.6 79.5L425 80.6M420.6 80.5L425 81.6M425 79.6L428.1 81.4M425 80.6L428.1 82.4M425 81.6L428.1 83.4M428.1 81.4L432.5 84.4M428.1 82.4L432.5 85.4M428.1 83.4L432.5 86.4M432.5 84.4L442.5 89.5M432.5 85.4L442.5 90.5M432.5 86.4L442.5 91.5M442.5 89.5L450 93.3M442.5 90.5L450 94.3M442.5 91.5L450 95.3M450 93.3L460 98.6M450 94.3L460 99.6M450 95.3L460 100.6M460 98.6L471.3 105.9M460 99.6L471.3 106.9M460 100.6L471.3 107.9M471.3 105.9L484.4 115.3M471.3 106.9L484.4 116.3M471.3 107.9L484.4 117.3M484.4 115.3L501.3 129.3M484.4 116.3L501.3 130.3M484.4 117.3L501.3 131.3M501.3 129.3L510.6 136.8M501.3 130.3L510.6 137.8M501.3 131.3L510.6 138.8M510.6 136.8L519 143.6M510.6 137.8L519 144.6M510.6 138.8L519 145.6M519 143.6L528.1 151.6M519 144.6L528.1 152.6M519 145.6L528.1 153.6M528.1 151.6L537.5 159.5M528.1 152.6L537.5 160.5M528.1 153.6L537.5 161.5M537.5 159.5L546.25 167.6M537.5 160.5L546.25 168.6M537.5 161.5L546.25 169.6M546.25 167.6L553.1 174M546.25 168.6L553.1 175M546.25 169.6L553.1 176M552.1 175L553.4 178.75M553.1 175L554.4 178.75M554.1 175L555.4 178.75M553.4 178.75L554 183.1M554.4 178.75L555 183.1M555.4 178.75L556 183.1M554 183.1L555.5 184.8M555 183.1L556.5 184.8M556 183.1L557.5 184.8M556.5 183.8L571.25 197.3M556.5 184.8L571.25 198.3M556.5 185.8L571.25 199.3M570.25 198.3L581.5 210M571.25 198.3L582.5 210M572.25 198.3L583.5 210M582.5 209L592.5 218.8M582.5 210L592.5 219.8M582.5 211L592.5 220.8" fill="none" stroke="#a80000" stroke-width="1" stroke-linecap="square"/>
<polygon shape-rendering="auto" points="213,119 218,119 221,122 221,127 218,130 213,130 210,127 210,122" fill="#0000a8"/>
<polygon shape-rendering="auto" points="213.4,120 217.6,120 220,122.4 220,126.6 217.6,129 213.4,129 211,126.6 211,122.4" fill="#a80000"/>
<polygon shape-rendering="auto" points="534,92 539,92 542,95 542,100 539,103 534,103 531,100 531,95" fill="#0000a8"/>
<polygon shape-rendering="auto" points="534.4,93 538.6,93 541,95.4 541,99.6 538.6,102 534.4,102 532,99.6 532,95.4" fill="#a80000"/>
<rect x="409.5" y="41.5" width="10" height="10" fill="#a800a8" stroke="#0000a8"/>
<polygon shape-rendering="auto" points="231,190 236,190 239,193 239,198 236,201 231,201 228,198 228,193" fill="#0000a8"/>
<polygon shape-rendering="auto" points="231.4,191 235.6,191 238,193.4 238,197.6 235.6,200 231.4,200 229,197.6 229,193.4" fill="#a80000"/>
<rect x="228.5" y="207.5" width="10" height="10" fill="#a800a8" stroke="#0000a8"/>
<text transform="translate(248.3 199) scale(1.55 1)" fill="#0000a8" stroke="#0000a8"><tspan x="1.097" dy="-1" textLength="3.742" lengthAdjust="spacingAndGlyphs">=</tspan><tspan x="5.161 10.97 16.13 21.29 26.45 31.61 36.77 41.94 47.1 52.9 58.06 63.23 68.39 73.55 78.71 83.87 89.03 94.84 100 105.2 110.3 115.5 120.6 125.8 131 136.8 141.9 147.1 152.3 157.4 162.6 167.7 172.9 178.7 183.9" dy="1"> ESTIMATED SLOT STRESS (MPA/MICRON)</tspan></text>
<text transform="translate(248.3 216) scale(1.55 1)" fill="#0000a8" stroke="#0000a8"><tspan x="1.097" dy="-1" textLength="3.742" lengthAdjust="spacingAndGlyphs">=</tspan><tspan x="5.161 10.97 16.13 21.29 26.45 31.61 36.77 41.94 47.1 52.9 58.06 63.23 68.39 73.55 78.71 83.87 89.03 94.84 100 105.2 110.3 115.5 120.6 125.8 131 136.8 141.9 147.1 152.3 157.4 162.6 167.7 172.9 178.7 183.9 189 194.2" dy="1"> ESTIMATED RADIUS STRESS (MPA/MICRON)</tspan></text>
<path d="M82 411.5h1m3 0h1m3 0h1m3 0h1m3 0h1m3 0h1m3 0h1m3 0h1m3 0h1m3 0h1m3 0h1m3 0h1m4 0h1m3 0h1m3 0h1m3 0h1m3 0h1m3 0h1m3 0h1m3 0h1m3 0h1m3 0h1m3 0h1m3 0h1m3 0h1m3 0h1m3 0h1m3 0h1m4 0h1m3 0h1m3 0h1m3 0h1m3 0h1m3 0h1m3 0h1m3 0h1m3 0h1m3 0h1m3 0h1m3 0h1m3 0h1m3 0h1m3 0h1m3 0h1m4 0h1m3 0h1m3 0h1m3 0h1m3 0h1m3 0h1m3 0h1m3 0h1m3 0h1m3 0h1m3 0h1m3 0h1m3 0h1m3 0h1m3 0h1m3 0h1m4 0h1m3 0h1m3 0h1m3 0h1m3 0h1m3 0h1m3 0h1m3 0h1m3 0h1m3 0h1m3 0h1m3 0h1m3 0h1m3 0h1m3 0h1m3 0h1m4 0h1m3 0h1m3 0h1m3 0h1m3 0h1m3 0h1m3 0h1m3 0h1m3 0h1m3 0h1m3 0h1m3 0h1m3 0h1m3 0h1m3 0h1m3 0h1m4 0h1m3 0h1m3 0h1m3 0h1m3 0h1m3 0h1m3 0h1m3 0h1m3 0h1m3 0h1m3 0h1m3 0h1m3 0h1m3 0h1m3 0h1m3 0h1m4 0h1m3 0h1m3 0h1m3 0h1m3 0h1m3 0h1m3 0h1m3 0h1m3 0h1m3 0h1m3 0h1m3 0h1m3 0h1m3 0h1m3 0h1m3 0h1m4 0h1m3 0h1m3 0h1m3 0h1m3 0h1m3 0h1m3 0h1m3 0h1m3 0h1m3 0h1m3 0h1m-545 -17h1m3 0h1m3 0h1m3 0h1m3 0h1m3 0h1m3 0h1m3 0h1m3 0h1m3 0h1m3 0h1m3 0h1m4 0h1m3 0h1m3 0h1m3 0h1m3 0h1m3 0h1m3 0h1m3 0h1m3 0h1m3 0h1m3 0h1m3 0h1m3 0h1m3 0h1m3 0h1m3 0h1m4 0h1m3 0h1m3 0h1m3 0h1m3 0h1m3 0h1m3 0h1m3 0h1m3 0h1m3 0h1m3 0h1m3 0h1m3 0h1m3 0h1m3 0h1m3 0h1m4 0h1m3 0h1m3 0h1m3 0h1m3 0h1m3 0h1m3 0h1m3 0h1m3 0h1m3 0h1m3 0h1m3 0h1m3 0h1m3 0h1m3 0h1m3 0h1m4 0h1m3 0h1m3 0h1m3 0h1m3 0h1m3 0h1m3 0h1m3 0h1m3 0h1m3 0h1m3 0h1m3 0h1m3 0h1m3 0h1m3 0h1m3 0h1m4 0h1m3 0h1m3 0h1m3 0h1m3 0h1m3 0h1m3 0h1m3 0h1m3 0h1m3 0h1m3 0h1m3 0h1m3 0h1m3 0h1m3 0h1m3 0h1m4 0h1m3 0h1m3 0h1m3 0h1m3 0h1m3 0h1m3 0h1m3 0h1m3 0h1m3 0h1m3 0h1m3 0h1m3 0h1m3 0h1m3 0h1m3 0h1m4 0h1m3 0h1m3 0h1m3 0h1m3 0h1m3 0h1m3 0h1m3 0h1m3 0h1m3 0h1m3 0h1m3 0h1m3 0h1m3 0h1m3 0h1m3 0h1m4 0h1m3 0h1m3 0h1m3 0h1m3 0h1m3 0h1m3 0h1m3 0h1m3 0h1m3 0h1m3 0h1m-545 -18h1m3 0h1m3 0h1m3 0h1m3 0h1m3 0h1m3 0h1m3 0h1m3 0h1m3 0h1m3 0h1m3 0h1m4 0h1m3 0h1m3 0h1m3 0h1m3 0h1m3 0h1m3 0h1m3 0h1m3 0h1m3 0h1m3 0h1m3 0h1m3 0h1m3 0h1m3 0h1m3 0h1m4 0h1m3 0h1m3 0h1m3 0h1m3 0h1m3 0h1m3 0h1m3 0h1m3 0h1m3 0h1m3 0h1m3 0h1m3 0h1m3 0h1m3 0h1m3 0h1m4 0h1m3 0h1m3 0h1m3 0h1m3 0h1m3 0h1m3 0h1m3 0h1m3 0h1m3 0h1m3 0h1m3 0h1m3 0h1m3 0h1m3 0h1m3 0h1m4 0h1m3 0h1m3 0h1m3 0h1m3 0h1m3 0h1m3 0h1m3 0h1m3 0h1m3 0h1m3 0h1m3 0h1m3 0h1m3 0h1m3 0h1m3 0h1m4 0h1m3 0h1m3 0h1m3 0h1m3 0h1m3 0h1m3 0h1m3 0h1m3 0h1m3 0h1m3 0h1m3 0h1m3 0h1m3 0h1m3 0h1m3 0h1m4 0h1m3 0h1m3 0h1m3 0h1m3 0h1m3 0h1m3 0h1m3 0h1m3 0h1m3 0h1m3 0h1m3 0h1m3 0h1m3 0h1m3 0h1m3 0h1m4 0h1m3 0h1m3 0h1m3 0h1m3 0h1m3 0h1m3 0h1m3 0h1m3 0h1m3 0h1m3 0h1m3 0h1m3 0h1m3 0h1m3 0h1m3 0h1m4 0h1m3 0h1m3 0h1m3 0h1m3 0h1m3 0h1m3 0h1m3 0h1m3 0h1m3 0h1m3 0h1m-545 -17h1m3 0h1m3 0h1m3 0h1m3 0h1m3 0h1m3 0h1m3 0h1m3 0h1m3 0h1m3 0h1m3 0h1m4 0h1m3 0h1m3 0h1m3 0h1m3 0h1m3 0h1m3 0h1m3 0h1m3 0h1m3 0h1m3 0h1m3 0h1m3 0h1m3 0h1m3 0h1m3 0h1m4 0h1m3 0h1m3 0h1m3 0h1m3 0h1m3 0h1m3 0h1m3 0h1m3 0h1m3 0h1m3 0h1m3 0h1m3 0h1m3 0h1m3 0h1m3 0h1m4 0h1m3 0h1m3 0h1m3 0h1m3 0h1m3 0h1m3 0h1m3 0h1m3 0h1m3 0h1m3 0h1m3 0h1m3 0h1m3 0h1m3 0h1m3 0h1m4 0h1m3 0h1m3 0h1m3 0h1m3 0h1m3 0h1m3 0h1m3 0h1m3 0h1m3 0h1m3 0h1m3 0h1m3 0h1m3 0h1m3 0h1m3 0h1m4 0h1m3 0h1m3 0h1m3 0h1m3 0h1m3 0h1m3 0h1m3 0h1m3 0h1m3 0h1m3 0h1m3 0h1m3 0h1m3 0h1m3 0h1m3 0h1m4 0h1m3 0h1m3 0h1m3 0h1m3 0h1m3 0h1m3 0h1m3 0h1m3 0h1m3 0h1m3 0h1m3 0h1m3 0h1m3 0h1m3 0h1m3 0h1m4 0h1m3 0h1m3 0h1m3 0h1m3 0h1m3 0h1m3 0h1m3 0h1m3 0h1m3 0h1m3 0h1m3 0h1m3 0h1m3 0h1m3 0h1m3 0h1m4 0h1m3 0h1m3 0h1m3 0h1m3 0h1m3 0h1m3 0h1m3 0h1m3 0h1m3 0h1m3 0h1m-545 -18h1m3 0h1m3 0h1m3 0h1m3 0h1m3 0h1m3 0h1m3 0h1m3 0h1m3 0h1m3 0h1m3 0h1m4 0h1m3 0h1m3 0h1m3 0h1m3 0h1m3 0h1m3 0h1m3 0h1m3 0h1m3 0h1m3 0h1m3 0h1m3 0h1m3 0h1m3 0h1m3 0h1m4 0h1m3 0h1m3 0h1m3 0h1m3 0h1m3 0h1m3 0h1m3 0h1m3 0h1m3 0h1m3 0h1m3 0h1m3 0h1m3 0h1m3 0h1m3 0h1m4 0h1m3 0h1m3 0h1m3 0h1m3 0h1m3 0h1m3 0h1m3 0h1m3 0h1m3 0h1m3 0h1m3 0h1m3 0h1m3 0h1m3 0h1m3 0h1m4 0h1m3 0h1m3 0h1m3 0h1m3 0h1m3 0h1m3 0h1m3 0h1m3 0h1m3 0h1m3 0h1m3 0h1m3 0h1m3 0h1m3 0h1m3 0h1m4 0h1m3 0h1m3 0h1m3 0h1m3 0h1m3 0h1m3 0h1m3 0h1m3 0h1m3 0h1m3 0h1m3 0h1m3 0h1m3 0h1m3 0h1m3 0h1m4 0h1m3 0h1m3 0h1m3 0h1m3 0h1m3 0h1m3 0h1m3 0h1m3 0h1m3 0h1m3 0h1m3 0h1m3 0h1m3 0h1m3 0h1m3 0h1m4 0h1m3 0h1m3 0h1m3 0h1m3 0h1m3 0h1m3 0h1m3 0h1m3 0h1m3 0h1m3 0h1m3 0h1m3 0h1m3 0h1m3 0h1m3 0h1m4 0h1m3 0h1m3 0h1m3 0h1m3 0h1m3 0h1m3 0h1m3 0h1m3 0h1m3 0h1m3 0h1m-545 -17h1m3 0h1m3 0h1m3 0h1m3 0h1m3 0h1m3 0h1m3 0h1m3 0h1m3 0h1m3 0h1m3 0h1m4 0h1m3 0h1m3 0h1m3 0h1m3 0h1m3 0h1m3 0h1m3 0h1m3 0h1m3 0h1m3 0h1m3 0h1m3 0h1m3 0h1m3 0h1m3 0h1m4 0h1m3 0h1m3 0h1m3 0h1m3 0h1m3 0h1m3 0h1m3 0h1m3 0h1m3 0h1m3 0h1m3 0h1m3 0h1m3 0h1m3 0h1m3 0h1m4 0h1m3 0h1m3 0h1m3 0h1m3 0h1m3 0h1m3 0h1m3 0h1m3 0h1m3 0h1m3 0h1m3 0h1m3 0h1m3 0h1m3 0h1m3 0h1m4 0h1m3 0h1m3 0h1m3 0h1m3 0h1m3 0h1m3 0h1m3 0h1m3 0h1m3 0h1m3 0h1m3 0h1m3 0h1m3 0h1m3 0h1m3 0h1m4 0h1m3 0h1m3 0h1m3 0h1m3 0h1m3 0h1m3 0h1m3 0h1m3 0h1m3 0h1m3 0h1m3 0h1m3 0h1m3 0h1m3 0h1m3 0h1m4 0h1m3 0h1m3 0h1m3 0h1m3 0h1m3 0h1m3 0h1m3 0h1m3 0h1m3 0h1m3 0h1m3 0h1m3 0h1m3 0h1m3 0h1m3 0h1m4 0h1m3 0h1m3 0h1m3 0h1m3 0h1m3 0h1m3 0h1m3 0h1m3 0h1m3 0h1m3 0h1m3 0h1m3 0h1m3 0h1m3 0h1m3 0h1m4 0h1m3 0h1m3 0h1m3 0h1m3 0h1m3 0h1m3 0h1m3 0h1m3 0h1m3 0h1m3 0h1m-545 -18h1m3 0h1m3 0h1m3 0h1m3 0h1m3 0h1m3 0h1m3 0h1m3 0h1m3 0h1m3 0h1m3 0h1m4 0h1m3 0h1m3 0h1m3 0h1m3 0h1m3 0h1m3 0h1m3 0h1m3 0h1m3 0h1m3 0h1m3 0h1m3 0h1m3 0h1m3 0h1m3 0h1m4 0h1m3 0h1m3 0h1m3 0h1m3 0h1m3 0h1m3 0h1m3 0h1m3 0h1m3 0h1m3 0h1m3 0h1m3 0h1m3 0h1m3 0h1m3 0h1m4 0h1m3 0h1m3 0h1m3 0h1m3 0h1m3 0h1m3 0h1m3 0h1m3 0h1m3 0h1m3 0h1m3 0h1m3 0h1m3 0h1m3 0h1m3 0h1m4 0h1m3 0h1m3 0h1m3 0h1m3 0h1m3 0h1m3 0h1m3 0h1m3 0h1m3 0h1m3 0h1m3 0h1m3 0h1m3 0h1m3 0h1m3 0h1m4 0h1m3 0h1m3 0h1m3 0h1m3 0h1m3 0h1m3 0h1m3 0h1m3 0h1m3 0h1m3 0h1m3 0h1m3 0h1m3 0h1m3 0h1m3 0h1m4 0h1m3 0h1m3 0h1m3 0h1m3 0h1m3 0h1m3 0h1m3 0h1m3 0h1m3 0h1m3 0h1m3 0h1m3 0h1m3 0h1m3 0h1m3 0h1m4 0h1m3 0h1m3 0h1m3 0h1m3 0h1m3 0h1m3 0h1m3 0h1m3 0h1m3 0h1m3 0h1m3 0h1m3 0h1m3 0h1m3 0h1m3 0h1m4 0h1m3 0h1m3 0h1m3 0h1m3 0h1m3 0h1m3 0h1m3 0h1m3 0h1m3 0h1m3 0h1m-545 -17h1m3 0h1m3 0h1m3 0h1m3 0h1m3 0h1m3 0h1m3 0h1m3 0h1m3 0h1m3 0h1m3 0h1m4 0h1m3 0h1m3 0h1m3 0h1m3 0h1m3 0h1m3 0h1m3 0h1m3 0h1m3 0h1m3 0h1m3 0h1m3 0h1m3 0h1m3 0h1m3 0h1m4 0h1m3 0h1m3 0h1m3 0h1m3 0h1m3 0h1m3 0h1m3 0h1m3 0h1m3 0h1m3 0h1m3 0h1m3 0h1m3 0h1m3 0h1m3 0h1m4 0h1m3 0h1m3 0h1m3 0h1m3 0h1m3 0h1m3 0h1m3 0h1m3 0h1m3 0h1m3 0h1m3 0h1m3 0h1m3 0h1m3 0h1m3 0h1m4 0h1m3 0h1m3 0h1m3 0h1m3 0h1m3 0h1m3 0h1m3 0h1m3 0h1m3 0h1m3 0h1m3 0h1m3 0h1m3 0h1m3 0h1m3 0h1m4 0h1m3 0h1m3 0h1m3 0h1m3 0h1m3 0h1m3 0h1m3 0h1m3 0h1m3 0h1m3 0h1m3 0h1m3 0h1m3 0h1m3 0h1m3 0h1m4 0h1m3 0h1m3 0h1m3 0h1m3 0h1m3 0h1m3 0h1m3 0h1m3 0h1m3 0h1m3 0h1m3 0h1m3 0h1m3 0h1m3 0h1m3 0h1m4 0h1m3 0h1m3 0h1m3 0h1m3 0h1m3 0h1m3 0h1m3 0h1m3 0h1m3 0h1m3 0h1m3 0h1m3 0h1m3 0h1m3 0h1m3 0h1m4 0h1m3 0h1m3 0h1m3 0h1m3 0h1m3 0h1m3 0h1m3 0h1m3 0h1m3 0h1m3 0h1m-545 -18h1m3 0h1m3 0h1m3 0h1m3 0h1m3 0h1m3 0h1m3 0h1m3 0h1m3 0h1m3 0h1m3 0h1m4 0h1m3 0h1m3 0h1m3 0h1m3 0h1m3 0h1m3 0h1m3 0h1m3 0h1m3 0h1m3 0h1m3 0h1m3 0h1m3 0h1m3 0h1m3 0h1m4 0h1m3 0h1m3 0h1m3 0h1m3 0h1m3 0h1m3 0h1m3 0h1m3 0h1m3 0h1m3 0h1m3 0h1m3 0h1m3 0h1m3 0h1m3 0h1m4 0h1m3 0h1m3 0h1m3 0h1m3 0h1m3 0h1m3 0h1m3 0h1m3 0h1m3 0h1m3 0h1m3 0h1m3 0h1m3 0h1m3 0h1m3 0h1m4 0h1m3 0h1m3 0h1m3 0h1m3 0h1m3 0h1m3 0h1m3 0h1m3 0h1m3 0h1m3 0h1m3 0h1m3 0h1m3 0h1m3 0h1m3 0h1m4 0h1m3 0h1m3 0h1m3 0h1m3 0h1m3 0h1m3 0h1m3 0h1m3 0h1m3 0h1m3 0h1m3 0h1m3 0h1m3 0h1m3 0h1m3 0h1m4 0h1m3 0h1m3 0h1m3 0h1m3 0h1m3 0h1m3 0h1m3 0h1m3 0h1m3 0h1m3 0h1m3 0h1m3 0h1m3 0h1m3 0h1m3 0h1m4 0h1m3 0h1m3 0h1m3 0h1m3 0h1m3 0h1m3 0h1m3 0h1m3 0h1m3 0h1m3 0h1m3 0h1m3 0h1m3 0h1m3 0h1m3 0h1m4 0h1m3 0h1m3 0h1m3 0h1m3 0h1m3 0h1m3 0h1m3 0h1m3 0h1m3 0h1m3 0h1m-29 158h1m3 0h1m3 0h1m3 0h1m3 0h1m3 0h1m3 0h1m3 0h1" stroke="#a800a8" fill="none"/>
<path d="M79 271.5h1m-1 2h1m-1 2h1m-1 2h1m-1 2h1m-1 2h1m-1 2h1m-1 2h1m-1 2h1m-1 2h1m-1 2h1m-1 2h1m-1 2h1m-1 2h1m-1 2h1m-1 2h1m-1 2h1m-1 2h1m-1 2h1m-1 2h1m-1 2h1m-1 2h1m-1 2h1m-1 2h1m-1 2h1m-1 2h1m-1 2h1m-1 2h1m-1 2h1m-1 2h1m-1 2h1m-1 2h1m-1 2h1m-1 2h1m-1 2h1m-1 2h1m-1 2h1m-1 2h1m-1 2h1m-1 2h1m-1 2h1m-1 2h1m-1 2h1m-1 2h1m-1 2h1m-1 2h1m-1 2h1m-1 2h1m-1 2h1m-1 2h1m-1 2h1m-1 2h1m-1 2h1m-1 2h1m-1 2h1m-1 2h1m-1 2h1m-1 2h1m-1 2h1m-1 2h1m-1 2h1m-1 2h1m-1 2h1m-1 2h1m-1 2h1m-1 2h1m-1 2h1m-1 2h1m-1 2h1m-1 2h1m-1 2h1m-1 2h1m-1 2h1m-1 2h1m-1 2h1m-1 2h1m-1 2h1m-1 2h1m-1 2h1m37 -156h1m-1 2h1m-1 2h1m-1 2h1m-1 2h1m-1 2h1m-1 2h1m-1 2h1m-1 2h1m-1 2h1m-1 2h1m-1 2h1m-1 2h1m-1 2h1m-1 2h1m-1 2h1m-1 2h1m-1 2h1m-1 2h1m-1 2h1m-1 2h1m-1 2h1m-1 2h1m-1 2h1m-1 2h1m-1 2h1m-1 2h1m-1 2h1m-1 2h1m-1 2h1m-1 2h1m-1 2h1m-1 2h1m-1 2h1m-1 2h1m-1 2h1m-1 2h1m-1 2h1m-1 2h1m-1 2h1m-1 2h1m-1 2h1m-1 2h1m-1 2h1m-1 2h1m-1 2h1m-1 2h1m-1 2h1m-1 2h1m-1 2h1m-1 2h1m-1 2h1m-1 2h1m-1 2h1m-1 2h1m-1 2h1m-1 2h1m-1 2h1m-1 2h1m-1 2h1m-1 2h1m-1 2h1m-1 2h1m-1 2h1m-1 2h1m-1 2h1m-1 2h1m-1 2h1m-1 2h1m-1 2h1m-1 2h1m-1 2h1m-1 2h1m-1 2h1m-1 2h1m-1 2h1m-1 2h1m-1 2h1m-1 2h1m39 -156h1m-1 2h1m-1 2h1m-1 2h1m-1 2h1m-1 2h1m-1 2h1m-1 2h1m-1 2h1m-1 2h1m-1 2h1m-1 2h1m-1 2h1m-1 2h1m-1 2h1m-1 2h1m-1 2h1m-1 2h1m-1 2h1m-1 2h1m-1 2h1m-1 2h1m-1 2h1m-1 2h1m-1 2h1m-1 2h1m-1 2h1m-1 2h1m-1 2h1m-1 2h1m-1 2h1m-1 2h1m-1 2h1m-1 2h1m-1 2h1m-1 2h1m-1 2h1m-1 2h1m-1 2h1m-1 2h1m-1 2h1m-1 2h1m-1 2h1m-1 2h1m-1 2h1m-1 2h1m-1 2h1m-1 2h1m-1 2h1m-1 2h1m-1 2h1m-1 2h1m-1 2h1m-1 2h1m-1 2h1m-1 2h1m-1 2h1m-1 2h1m-1 2h1m-1 2h1m-1 2h1m-1 2h1m-1 2h1m-1 2h1m-1 2h1m-1 2h1m-1 2h1m-1 2h1m-1 2h1m-1 2h1m-1 2h1m-1 2h1m-1 2h1m-1 2h1m-1 2h1m-1 2h1m-1 2h1m-1 2h1m-1 2h1m39 -156h1m-1 2h1m-1 2h1m-1 2h1m-1 2h1m-1 2h1m-1 2h1m-1 2h1m-1 2h1m-1 2h1m-1 2h1m-1 2h1m-1 2h1m-1 2h1m-1 2h1m-1 2h1m-1 2h1m-1 2h1m-1 2h1m-1 2h1m-1 2h1m-1 2h1m-1 2h1m-1 2h1m-1 2h1m-1 2h1m-1 2h1m-1 2h1m-1 2h1m-1 2h1m-1 2h1m-1 2h1m-1 2h1m-1 2h1m-1 2h1m-1 2h1m-1 2h1m-1 2h1m-1 2h1m-1 2h1m-1 2h1m-1 2h1m-1 2h1m-1 2h1m-1 2h1m-1 2h1m-1 2h1m-1 2h1m-1 2h1m-1 2h1m-1 2h1m-1 2h1m-1 2h1m-1 2h1m-1 2h1m-1 2h1m-1 2h1m-1 2h1m-1 2h1m-1 2h1m-1 2h1m-1 2h1m-1 2h1m-1 2h1m-1 2h1m-1 2h1m-1 2h1m-1 2h1m-1 2h1m-1 2h1m-1 2h1m-1 2h1m-1 2h1m-1 2h1m-1 2h1m-1 2h1m-1 2h1m-1 2h1m-1 2h1m37 -156h1m-1 2h1m-1 2h1m-1 2h1m-1 2h1m-1 2h1m-1 2h1m-1 2h1m-1 2h1m-1 2h1m-1 2h1m-1 2h1m-1 2h1m-1 2h1m-1 2h1m-1 2h1m-1 2h1m-1 2h1m-1 2h1m-1 2h1m-1 2h1m-1 2h1m-1 2h1m-1 2h1m-1 2h1m-1 2h1m-1 2h1m-1 2h1m-1 2h1m-1 2h1m-1 2h1m-1 2h1m-1 2h1m-1 2h1m-1 2h1m-1 2h1m-1 2h1m-1 2h1m-1 2h1m-1 2h1m-1 2h1m-1 2h1m-1 2h1m-1 2h1m-1 2h1m-1 2h1m-1 2h1m-1 2h1m-1 2h1m-1 2h1m-1 2h1m-1 2h1m-1 2h1m-1 2h1m-1 2h1m-1 2h1m-1 2h1m-1 2h1m-1 2h1m-1 2h1m-1 2h1m-1 2h1m-1 2h1m-1 2h1m-1 2h1m-1 2h1m-1 2h1m-1 2h1m-1 2h1m-1 2h1m-1 2h1m-1 2h1m-1 2h1m-1 2h1m-1 2h1m-1 2h1m-1 2h1m-1 2h1m-1 2h1m38 -156h1m-1 2h1m-1 2h1m-1 2h1m-1 2h1m-1 2h1m-1 2h1m-1 2h1m-1 2h1m-1 2h1m-1 2h1m-1 2h1m-1 2h1m-1 2h1m-1 2h1m-1 2h1m-1 2h1m-1 2h1m-1 2h1m-1 2h1m-1 2h1m-1 2h1m-1 2h1m-1 2h1m-1 2h1m-1 2h1m-1 2h1m-1 2h1m-1 2h1m-1 2h1m-1 2h1m-1 2h1m-1 2h1m-1 2h1m-1 2h1m-1 2h1m-1 2h1m-1 2h1m-1 2h1m-1 2h1m-1 2h1m-1 2h1m-1 2h1m-1 2h1m-1 2h1m-1 2h1m-1 2h1m-1 2h1m-1 2h1m-1 2h1m-1 2h1m-1 2h1m-1 2h1m-1 2h1m-1 2h1m-1 2h1m-1 2h1m-1 2h1m-1 2h1m-1 2h1m-1 2h1m-1 2h1m-1 2h1m-1 2h1m-1 2h1m-1 2h1m-1 2h1m-1 2h1m-1 2h1m-1 2h1m-1 2h1m-1 2h1m-1 2h1m-1 2h1m-1 2h1m-1 2h1m-1 2h1m-1 2h1m-1 2h1m38 -156h1m-1 2h1m-1 2h1m-1 2h1m-1 2h1m-1 2h1m-1 2h1m-1 2h1m-1 2h1m-1 2h1m-1 2h1m-1 2h1m-1 2h1m-1 2h1m-1 2h1m-1 2h1m-1 2h1m-1 2h1m-1 2h1m-1 2h1m-1 2h1m-1 2h1m-1 2h1m-1 2h1m-1 2h1m-1 2h1m-1 2h1m-1 2h1m-1 2h1m-1 2h1m-1 2h1m-1 2h1m-1 2h1m-1 2h1m-1 2h1m-1 2h1m-1 2h1m-1 2h1m-1 2h1m-1 2h1m-1 2h1m-1 2h1m-1 2h1m-1 2h1m-1 2h1m-1 2h1m-1 2h1m-1 2h1m-1 2h1m-1 2h1m-1 2h1m-1 2h1m-1 2h1m-1 2h1m-1 2h1m-1 2h1m-1 2h1m-1 2h1m-1 2h1m-1 2h1m-1 2h1m-1 2h1m-1 2h1m-1 2h1m-1 2h1m-1 2h1m-1 2h1m-1 2h1m-1 2h1m-1 2h1m-1 2h1m-1 2h1m-1 2h1m-1 2h1m-1 2h1m-1 2h1m-1 2h1m-1 2h1m-1 2h1m39 -156h1m-1 2h1m-1 2h1m-1 2h1m-1 2h1m-1 2h1m-1 2h1m-1 2h1m-1 2h1m-1 2h1m-1 2h1m-1 2h1m-1 2h1m-1 2h1m-1 2h1m-1 2h1m-1 2h1m-1 2h1m-1 2h1m-1 2h1m-1 2h1m-1 2h1m-1 2h1m-1 2h1m-1 2h1m-1 2h1m-1 2h1m-1 2h1m-1 2h1m-1 2h1m-1 2h1m-1 2h1m-1 2h1m-1 2h1m-1 2h1m-1 2h1m-1 2h1m-1 2h1m-1 2h1m-1 2h1m-1 2h1m-1 2h1m-1 2h1m-1 2h1m-1 2h1m-1 2h1m-1 2h1m-1 2h1m-1 2h1m-1 2h1m-1 2h1m-1 2h1m-1 2h1m-1 2h1m-1 2h1m-1 2h1m-1 2h1m-1 2h1m-1 2h1m-1 2h1m-1 2h1m-1 2h1m-1 2h1m-1 2h1m-1 2h1m-1 2h1m-1 2h1m-1 2h1m-1 2h1m-1 2h1m-1 2h1m-1 2h1m-1 2h1m-1 2h1m-1 2h1m-1 2h1m-1 2h1m-1 2h1m-1 2h1m38 -156h1m-1 2h1m-1 2h1m-1 2h1m-1 2h1m-1 2h1m-1 2h1m-1 2h1m-1 2h1m-1 2h1m-1 2h1m-1 2h1m-1 2h1m-1 2h1m-1 2h1m-1 2h1m-1 2h1m-1 2h1m-1 2h1m-1 2h1m-1 2h1m-1 2h1m-1 2h1m-1 2h1m-1 2h1m-1 2h1m-1 2h1m-1 2h1m-1 2h1m-1 2h1m-1 2h1m-1 2h1m-1 2h1m-1 2h1m-1 2h1m-1 2h1m-1 2h1m-1 2h1m-1 2h1m-1 2h1m-1 2h1m-1 2h1m-1 2h1m-1 2h1m-1 2h1m-1 2h1m-1 2h1m-1 2h1m-1 2h1m-1 2h1m-1 2h1m-1 2h1m-1 2h1m-1 2h1m-1 2h1m-1 2h1m-1 2h1m-1 2h1m-1 2h1m-1 2h1m-1 2h1m-1 2h1m-1 2h1m-1 2h1m-1 2h1m-1 2h1m-1 2h1m-1 2h1m-1 2h1m-1 2h1m-1 2h1m-1 2h1m-1 2h1m-1 2h1m-1 2h1m-1 2h1m-1 2h1m-1 2h1m-1 2h1m37 -156h1m-1 2h1m-1 2h1m-1 2h1m-1 2h1m-1 2h1m-1 2h1m-1 2h1m-1 2h1m-1 2h1m-1 2h1m-1 2h1m-1 2h1m-1 2h1m-1 2h1m-1 2h1m-1 2h1m-1 2h1m-1 2h1m-1 2h1m-1 2h1m-1 2h1m-1 2h1m-1 2h1m-1 2h1m-1 2h1m-1 2h1m-1 2h1m-1 2h1m-1 2h1m-1 2h1m-1 2h1m-1 2h1m-1 2h1m-1 2h1m-1 2h1m-1 2h1m-1 2h1m-1 2h1m-1 2h1m-1 2h1m-1 2h1m-1 2h1m-1 2h1m-1 2h1m-1 2h1m-1 2h1m-1 2h1m-1 2h1m-1 2h1m-1 2h1m-1 2h1m-1 2h1m-1 2h1m-1 2h1m-1 2h1m-1 2h1m-1 2h1m-1 2h1m-1 2h1m-1 2h1m-1 2h1m-1 2h1m-1 2h1m-1 2h1m-1 2h1m-1 2h1m-1 2h1m-1 2h1m-1 2h1m-1 2h1m-1 2h1m-1 2h1m-1 2h1m-1 2h1m-1 2h1m-1 2h1m-1 2h1m-1 2h1m39 -156h1m-1 2h1m-1 2h1m-1 2h1m-1 2h1m-1 2h1m-1 2h1m-1 2h1m-1 2h1m-1 2h1m-1 2h1m-1 2h1m-1 2h1m-1 2h1m-1 2h1m-1 2h1m-1 2h1m-1 2h1m-1 2h1m-1 2h1m-1 2h1m-1 2h1m-1 2h1m-1 2h1m-1 2h1m-1 2h1m-1 2h1m-1 2h1m-1 2h1m-1 2h1m-1 2h1m-1 2h1m-1 2h1m-1 2h1m-1 2h1m-1 2h1m-1 2h1m-1 2h1m-1 2h1m-1 2h1m-1 2h1m-1 2h1m-1 2h1m-1 2h1m-1 2h1m-1 2h1m-1 2h1m-1 2h1m-1 2h1m-1 2h1m-1 2h1m-1 2h1m-1 2h1m-1 2h1m-1 2h1m-1 2h1m-1 2h1m-1 2h1m-1 2h1m-1 2h1m-1 2h1m-1 2h1m-1 2h1m-1 2h1m-1 2h1m-1 2h1m-1 2h1m-1 2h1m-1 2h1m-1 2h1m-1 2h1m-1 2h1m-1 2h1m-1 2h1m-1 2h1m-1 2h1m-1 2h1m-1 2h1m-1 2h1m38 -156h1m-1 2h1m-1 2h1m-1 2h1m-1 2h1m-1 2h1m-1 2h1m-1 2h1m-1 2h1m-1 2h1m-1 2h1m-1 2h1m-1 2h1m-1 2h1m-1 2h1m-1 2h1m-1 2h1m-1 2h1m-1 2h1m-1 2h1m-1 2h1m-1 2h1m-1 2h1m-1 2h1m-1 2h1m-1 2h1m-1 2h1m-1 2h1m-1 2h1m-1 2h1m-1 2h1m-1 2h1m-1 2h1m-1 2h1m-1 2h1m-1 2h1m-1 2h1m-1 2h1m-1 2h1m-1 2h1m-1 2h1m-1 2h1m-1 2h1m-1 2h1m-1 2h1m-1 2h1m-1 2h1m-1 2h1m-1 2h1m-1 2h1m-1 2h1m-1 2h1m-1 2h1m-1 2h1m-1 2h1m-1 2h1m-1 2h1m-1 2h1m-1 2h1m-1 2h1m-1 2h1m-1 2h1m-1 2h1m-1 2h1m-1 2h1m-1 2h1m-1 2h1m-1 2h1m-1 2h1m-1 2h1m-1 2h1m-1 2h1m-1 2h1m-1 2h1m-1 2h1m-1 2h1m-1 2h1m-1 2h1m-1 2h1m38 -156h1m-1 2h1m-1 2h1m-1 2h1m-1 2h1m-1 2h1m-1 2h1m-1 2h1m-1 2h1m-1 2h1m-1 2h1m-1 2h1m-1 2h1m-1 2h1m-1 2h1m-1 2h1m-1 2h1m-1 2h1m-1 2h1m-1 2h1m-1 2h1m-1 2h1m-1 2h1m-1 2h1m-1 2h1m-1 2h1m-1 2h1m-1 2h1m-1 2h1m-1 2h1m-1 2h1m-1 2h1m-1 2h1m-1 2h1m-1 2h1m-1 2h1m-1 2h1m-1 2h1m-1 2h1m-1 2h1m-1 2h1m-1 2h1m-1 2h1m-1 2h1m-1 2h1m-1 2h1m-1 2h1m-1 2h1m-1 2h1m-1 2h1m-1 2h1m-1 2h1m-1 2h1m-1 2h1m-1 2h1m-1 2h1m-1 2h1m-1 2h1m-1 2h1m-1 2h1m-1 2h1m-1 2h1m-1 2h1m-1 2h1m-1 2h1m-1 2h1m-1 2h1m-1 2h1m-1 2h1m-1 2h1m-1 2h1m-1 2h1m-1 2h1m-1 2h1m-1 2h1m-1 2h1m-1 2h1m-1 2h1m-1 2h1m38 -156h1m-1 2h1m-1 2h1m-1 2h1m-1 2h1m-1 2h1m-1 2h1m-1 2h1m-1 2h1m-1 2h1m-1 2h1m-1 2h1m-1 2h1m-1 2h1m-1 2h1m-1 2h1m-1 2h1m-1 2h1m-1 2h1m-1 2h1m-1 2h1m-1 2h1m-1 2h1m-1 2h1m-1 2h1m-1 2h1m-1 2h1m-1 2h1m-1 2h1m-1 2h1m-1 2h1m-1 2h1m-1 2h1m-1 2h1m-1 2h1m-1 2h1m-1 2h1m-1 2h1m-1 2h1m-1 2h1m-1 2h1m-1 2h1m-1 2h1m-1 2h1m-1 2h1m-1 2h1m-1 2h1m-1 2h1m-1 2h1m-1 2h1m-1 2h1m-1 2h1m-1 2h1m-1 2h1m-1 2h1m-1 2h1m-1 2h1m-1 2h1m-1 2h1m-1 2h1m-1 2h1m-1 2h1m-1 2h1m-1 2h1m-1 2h1m-1 2h1m-1 2h1m-1 2h1m-1 2h1m-1 2h1m-1 2h1m-1 2h1m-1 2h1m-1 2h1m-1 2h1m-1 2h1m-1 2h1m-1 2h1m-1 2h1m38 -156h1m-1 2h1m-1 2h1m-1 2h1m-1 2h1m-1 2h1m-1 2h1m-1 2h1m-1 2h1m-1 2h1m-1 2h1m-1 2h1m-1 2h1m-1 2h1m-1 2h1m-1 2h1m-1 2h1m-1 2h1m-1 2h1m-1 2h1m-1 2h1m-1 2h1m-1 2h1m-1 2h1m-1 2h1m-1 2h1m-1 2h1m-1 2h1m-1 2h1m-1 2h1m-1 2h1m-1 2h1m-1 2h1m-1 2h1m-1 2h1m-1 2h1m-1 2h1m-1 2h1m-1 2h1m-1 2h1m-1 2h1m-1 2h1m-1 2h1m-1 2h1m-1 2h1m-1 2h1m-1 2h1m-1 2h1m-1 2h1m-1 2h1m-1 2h1m-1 2h1m-1 2h1m-1 2h1m-1 2h1m-1 2h1m-1 2h1m-1 2h1m-1 2h1m-1 2h1m-1 2h1m-1 2h1m-1 2h1m-1 2h1m-1 2h1m-1 2h1m-1 2h1m-1 2h1m-1 2h1m-1 2h1m-1 2h1m-1 2h1m-1 2h1m-1 2h1m-1 2h1m-1 2h1m-1 2h1m-1 2h1m-1 2h1" stroke="#a800a8" fill="none"/>
<path d="M79.5 289.5H313.9A155.9 279.3 0 0 0 427.2 376.5H593.5V429.5H79.5Z" fill="url(#hatch)" stroke="#0000a8"/>
<rect x="79.5" y="396.5" width="66" height="33" fill="#fcfc54" stroke="#0000a8"/>
<path d="M92.5 397V429M105.5 397V429M118.5 397V429M132.5 397V429M85.5 402V429M98.5 402V429M111.5 402V429M125.5 402V429M138.5 402V429" stroke="#0000a8" fill="none"/>
<path d="M197.5 292v5M197.5 300v5M197.5 308v5M197.5 316v5M197.5 324v5M197.5 332v5M197.5 340v5M197.5 348v5M197.5 356v5M197.5 364v5M197.5 372v5M197.5 380v5M197.5 388v5M197.5 396v5M197.5 404v5M197.5 412v5M197.5 420v5M197.5 428v2" stroke="#0000a8" stroke-width="3" fill="none"/>
<path d="M553.5 379v5M553.5 387v5M553.5 395v5M553.5 403v5M553.5 411v5M553.5 419v5M553.5 427v3" stroke="#0000a8" stroke-width="3" fill="none"/>
<path d="M79.5 430v10M117.5 430v10M157.5 430v10M197.5 430v10M235.5 430v10M274.5 430v10M313.5 430v10M353.5 430v10M392.5 430v10M430.5 430v10M470.5 430v10M509.5 430v10M548.5 430v10M587.5 430v10M626.5 430v10" stroke="#a800a8" fill="none"/>
<text transform="translate(75.3 452) scale(1.55 1)" x="0" fill="#0000a8" stroke="#0000a8">0</text>
<text transform="translate(109.3 452) scale(1.55 1)" x="0 5.161" fill="#0000a8" stroke="#0000a8">10</text>
<text transform="translate(149.3 452) scale(1.55 1)" x="0 5.161" fill="#0000a8" stroke="#0000a8">20</text>
<text transform="translate(189.3 452) scale(1.55 1)" x="0 5.806" fill="#0000a8" stroke="#0000a8">30</text>
<text transform="translate(227.3 452) scale(1.55 1)" x="0 5.161" fill="#0000a8" stroke="#0000a8">40</text>
<text transform="translate(266.3 452) scale(1.55 1)" x="0 5.161" fill="#0000a8" stroke="#0000a8">50</text>
<text transform="translate(305.3 452) scale(1.55 1)" x="0 5.161" fill="#0000a8" stroke="#0000a8">60</text>
<text transform="translate(345.3 452) scale(1.55 1)" x="0 5.161" fill="#0000a8" stroke="#0000a8">70</text>
<text transform="translate(384.3 452) scale(1.55 1)" x="0 5.806" fill="#0000a8" stroke="#0000a8">80</text>
<text transform="translate(422.3 452) scale(1.55 1)" x="0 5.161" fill="#0000a8" stroke="#0000a8">90</text>
<text transform="translate(458.3 452) scale(1.55 1)" x="0 5.161 10.32" fill="#0000a8" stroke="#0000a8">100</text>
<text transform="translate(497.3 452) scale(1.55 1)" x="0 5.161 10.32" fill="#0000a8" stroke="#0000a8">110</text>
<text transform="translate(536.3 452) scale(1.55 1)" x="0 5.161 10.32" fill="#0000a8" stroke="#0000a8">120</text>
<text transform="translate(575.3 452) scale(1.55 1)" x="0 5.806 10.97" fill="#0000a8" stroke="#0000a8">130</text>
<text transform="translate(614.3 452) scale(1.55 1)" x="0 5.161 10.32" fill="#0000a8" stroke="#0000a8">140</text>
<text transform="translate(65.3 433) scale(1.55 1)" x="0" fill="#0000a8" stroke="#0000a8">0</text>
<text transform="translate(48.3 415) scale(1.55 1)" x="0 5.161 10.97" fill="#0000a8" stroke="#0000a8">2.5</text>
<text transform="translate(48.3 398) scale(1.55 1)" x="0 5.161 10.97" fill="#0000a8" stroke="#0000a8">5.0</text>
<text transform="translate(48.3 380) scale(1.55 1)" x="0 5.161 10.97" fill="#0000a8" stroke="#0000a8">7.5</text>
<text transform="translate(40.3 363) scale(1.55 1)" x="0 5.161 10.32 16.13" fill="#0000a8" stroke="#0000a8">10.0</text>
<text transform="translate(40.3 345) scale(1.55 1)" x="0 5.161 10.32 16.13" fill="#0000a8" stroke="#0000a8">12.5</text>
<text transform="translate(40.3 328) scale(1.55 1)" x="0 5.161 10.32 16.13" fill="#0000a8" stroke="#0000a8">15.0</text>
<text transform="translate(40.3 310) scale(1.55 1)" x="0 5.161 10.32 16.13" fill="#0000a8" stroke="#0000a8">17.5</text>
<text transform="translate(40.3 293) scale(1.55 1)" x="0 5.161 10.32 16.13" fill="#0000a8" stroke="#0000a8">20.0</text>
<text transform="translate(40.3 275) scale(1.55 1)" x="0 5.161 10.32 16.13" fill="#0000a8" stroke="#0000a8">22.5</text>
<rect x="73.5" y="283.5" width="12" height="12" fill="#fcfcfc" stroke="#0000a8"/>
<text transform="translate(75.3 293) scale(1.55 1)" x="0" fill="#0000a8" stroke="#0000a8">1</text>
<rect x="307.5" y="283.5" width="12" height="12" fill="#fcfcfc" stroke="#0000a8"/>
<text transform="translate(309.3 293) scale(1.55 1)" x="0" fill="#0000a8" stroke="#0000a8">2</text>
<rect x="421.5" y="370.5" width="12" height="12" fill="#fcfcfc" stroke="#0000a8"/>
<text transform="translate(423.3 380) scale(1.55 1)" x="0" fill="#0000a8" stroke="#0000a8">3</text>
<rect x="587.5" y="370.5" width="12" height="12" fill="#fcfcfc" stroke="#0000a8"/>
<text transform="translate(589.3 380) scale(1.55 1)" x="0" fill="#0000a8" stroke="#0000a8">4</text>
<rect x="73.5" y="423.5" width="12" height="12" fill="#0000a8" stroke="#0000a8"/>
<text transform="translate(75.3 433) scale(1.55 1)" x="0" fill="#fcfc54" stroke="#fcfc54">0</text>
<rect x="196.5" y="248.5" width="255" height="12" fill="none" stroke="#0000a8"/>
<text transform="translate(198.3 258) scale(1.55 1)" x="0 5.161 10.32 15.48 20.65 25.81 30.97 36.13 41.94 47.1 52.26 57.42 62.58 67.74 72.9 78.06 83.87 89.03 94.19 99.35 104.5 109.7 114.8 120 125.8 131 136.1 141.3 146.5 151.6 156.8" fill="#0000a8" stroke="#0000a8">RESONATOR GEOMETRY (HALF-SHAPE)</text>
<rect x="236.5" y="459.5" width="175" height="12" fill="none" stroke="#0000a8"/>
<text transform="translate(238.3 469) scale(1.55 1)" x="0 5.161 10.32 16.13 21.29 26.45 31.61 36.77 41.94 47.1 52.26 58.06 63.23 68.39 73.55 78.71 83.87 89.03 94.19 100 105.2" fill="#0000a8" stroke="#0000a8">RESONATOR LENGTH (MM)</text>
<rect x="8.5" y="301.5" width="26" height="116" fill="none" stroke="#0000a8"/>
<text transform="translate(17 415.7) rotate(-90) scale(1.55 1)" x="0 5.161 10.32 15.48 20.65 25.81 30.97 36.13 41.29 46.45 51.61 56.77 61.94 67.1" fill="#0000a8" stroke="#0000a8">RESONATOR HALF</text>
<text transform="translate(31 415.7) rotate(-90) scale(1.55 1)" x="0 5.161 10.32 15.48 20.65 25.81 30.97 36.13 41.29 46.45 51.61 56.77 61.94 67.1" fill="#0000a8" stroke="#0000a8">THICKNESS (MM)</text>
</svg></body></html>
